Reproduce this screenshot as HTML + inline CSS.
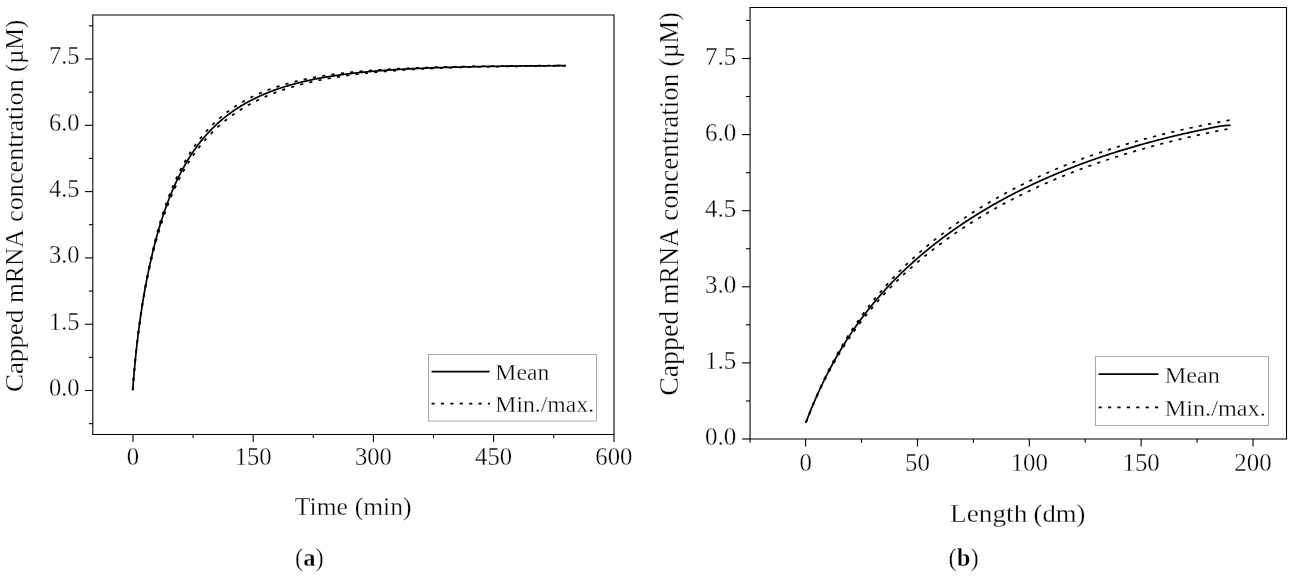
<!DOCTYPE html>
<html><head><meta charset="utf-8"><style>
html,body{margin:0;padding:0;background:#fff;}
svg{display:block;filter:grayscale(100%);}
text{font-family:"Liberation Serif",serif;fill:#000;stroke:#fff;stroke-width:0.3px;}
</style></head><body>
<svg width="1294" height="576" viewBox="0 0 1294 576">
<rect width="1294" height="576" fill="#fff"/>
<path d="M92.79,15.0 H614.0 V434.45 H92.79 Z" fill="none" stroke="#000" stroke-width="1.1"/>
<line x1="88.89" y1="423.65" x2="92.79" y2="423.65" stroke="#000" stroke-width="1.1"/>
<line x1="84.99" y1="390.50" x2="92.79" y2="390.50" stroke="#000" stroke-width="1.1"/>
<line x1="88.89" y1="357.35" x2="92.79" y2="357.35" stroke="#000" stroke-width="1.1"/>
<line x1="84.99" y1="324.20" x2="92.79" y2="324.20" stroke="#000" stroke-width="1.1"/>
<line x1="88.89" y1="291.05" x2="92.79" y2="291.05" stroke="#000" stroke-width="1.1"/>
<line x1="84.99" y1="257.90" x2="92.79" y2="257.90" stroke="#000" stroke-width="1.1"/>
<line x1="88.89" y1="224.75" x2="92.79" y2="224.75" stroke="#000" stroke-width="1.1"/>
<line x1="84.99" y1="191.60" x2="92.79" y2="191.60" stroke="#000" stroke-width="1.1"/>
<line x1="88.89" y1="158.45" x2="92.79" y2="158.45" stroke="#000" stroke-width="1.1"/>
<line x1="84.99" y1="125.30" x2="92.79" y2="125.30" stroke="#000" stroke-width="1.1"/>
<line x1="88.89" y1="92.15" x2="92.79" y2="92.15" stroke="#000" stroke-width="1.1"/>
<line x1="84.99" y1="59.00" x2="92.79" y2="59.00" stroke="#000" stroke-width="1.1"/>
<line x1="88.89" y1="25.85" x2="92.79" y2="25.85" stroke="#000" stroke-width="1.1"/>
<line x1="133.00" y1="434.45" x2="133.00" y2="442.10" stroke="#000" stroke-width="1.1"/>
<line x1="193.10" y1="434.45" x2="193.10" y2="438.05" stroke="#000" stroke-width="1.1"/>
<line x1="253.20" y1="434.45" x2="253.20" y2="442.10" stroke="#000" stroke-width="1.1"/>
<line x1="313.30" y1="434.45" x2="313.30" y2="438.05" stroke="#000" stroke-width="1.1"/>
<line x1="373.40" y1="434.45" x2="373.40" y2="442.10" stroke="#000" stroke-width="1.1"/>
<line x1="433.50" y1="434.45" x2="433.50" y2="438.05" stroke="#000" stroke-width="1.1"/>
<line x1="493.60" y1="434.45" x2="493.60" y2="442.10" stroke="#000" stroke-width="1.1"/>
<line x1="553.70" y1="434.45" x2="553.70" y2="438.05" stroke="#000" stroke-width="1.1"/>
<line x1="614.00" y1="434.45" x2="614.00" y2="442.10" stroke="#000" stroke-width="1.1"/>
<text transform="translate(79.53,395.85)" font-size="24.50" text-anchor="end">0.0</text>
<text transform="translate(79.53,329.55)" font-size="24.50" text-anchor="end">1.5</text>
<text transform="translate(79.53,263.25)" font-size="24.50" text-anchor="end">3.0</text>
<text transform="translate(79.53,196.95)" font-size="24.50" text-anchor="end">4.5</text>
<text transform="translate(79.53,130.65)" font-size="24.50" text-anchor="end">6.0</text>
<text transform="translate(79.53,64.35)" font-size="24.50" text-anchor="end">7.5</text>
<text transform="translate(133.00,465.30)" font-size="24.70" text-anchor="middle">0</text>
<text transform="translate(253.20,465.30)" font-size="24.70" text-anchor="middle">150</text>
<text transform="translate(373.40,465.30)" font-size="24.70" text-anchor="middle">300</text>
<text transform="translate(493.60,465.30)" font-size="24.70" text-anchor="middle">450</text>
<text transform="translate(613.80,465.30)" font-size="24.70" text-anchor="middle">600</text>
<text transform="translate(294.84,514.90) scale(1.0392,1)" font-size="24.60" text-anchor="start">Time</text>
<text transform="translate(354.68,514.90) scale(1.0383,1)" font-size="24.60" text-anchor="start">(min)</text>
<text transform="translate(23.35,392.11) rotate(-90) scale(1.0340,1)" font-size="26.10" text-anchor="start">Capped</text>
<text transform="translate(23.35,303.04) rotate(-90) scale(0.9803,1)" font-size="26.10" text-anchor="start">mRNA</text>
<text transform="translate(23.35,221.90) rotate(-90) scale(1.0054,1)" font-size="26.10" text-anchor="start">concentration</text>
<text transform="translate(23.35,71.98) rotate(-90) scale(0.9384,1)" font-size="26.10" text-anchor="start">(µM)</text>
<rect x="428.5" y="354.5" width="168" height="66.6" fill="#fff" stroke="#aaaaaa" stroke-width="1"/>
<line x1="431.50" y1="371.60" x2="489.60" y2="371.60" stroke="#000" stroke-width="1.7"/>
<line x1="431.5" y1="403.7" x2="490" y2="403.7" stroke="#000" stroke-width="1.7" stroke-dasharray="3.2 6.2"/>
<text transform="translate(495.32,380.40) scale(1.0573,1)" font-size="22.45" text-anchor="start">Mean</text>
<text transform="translate(495.32,412.10) scale(1.0568,1)" font-size="22.45" text-anchor="start">Min./max.</text>
<path d="M132.70,390.10 L132.86,388.02 L133.02,385.97 L133.18,383.95 L133.34,381.97 L133.50,380.02 L133.67,378.11 L133.83,376.22 L133.99,374.36 L134.15,372.54 L134.31,370.74 L134.47,368.97 L134.63,367.22 L134.79,365.51 L134.95,363.81 L135.11,362.14 L135.27,360.50 L135.43,358.88 L135.60,357.28 L135.76,355.70 L135.92,354.15 L136.08,352.61 L136.24,351.10 L136.40,349.60 L136.56,348.13 L136.72,346.67 L136.88,345.23 L137.04,343.81 L137.20,342.41 L137.36,341.03 L137.53,339.66 L137.69,338.30 L137.85,336.97 L138.01,335.65 L138.17,334.34 L138.33,333.05 L138.49,331.77 L138.65,330.51 L138.81,329.26 L138.97,328.02 L139.13,326.80 L139.29,325.59 L139.46,324.39 L139.62,323.20 L139.78,322.03 L139.94,320.87 L140.10,319.71 L140.26,318.57 L140.42,317.45 L140.58,316.33 L140.74,315.22 L140.90,314.12 L141.06,313.03 L141.22,311.96 L141.39,310.89 L141.55,309.83 L141.71,308.78 L141.87,307.74 L142.03,306.71 L142.19,305.69 L142.35,304.67 L142.51,303.66 L142.67,302.67 L142.83,301.68 L142.99,300.70 L143.15,299.72 L143.32,298.76 L143.48,297.80 L143.64,296.85 L143.80,295.90 L143.96,294.97 L144.12,294.04 L144.28,293.11 L144.44,292.20 L144.60,291.29 L144.76,290.38 L144.92,289.49 L145.08,288.60 L145.25,287.71 L145.41,286.84 L145.57,285.97 L145.73,285.10 L145.89,284.24 L146.05,283.39 L146.21,282.54 L146.37,281.70 L146.53,280.86 L146.69,280.03 L146.85,279.20 L147.01,278.38 L147.18,277.57 L147.34,276.76 L147.50,275.95 L147.66,275.15 L147.82,274.36 L147.98,273.57 L148.14,272.78 L148.30,272.00 L148.46,271.22 L148.62,270.45 L148.78,269.69 L148.94,268.92 L149.11,268.17 L149.27,267.41 L149.43,266.67 L149.59,265.92 L149.75,265.18 L149.91,264.45 L150.07,263.72 L150.23,262.99 L150.39,262.27 L150.55,261.55 L150.71,260.83 L150.87,260.12 L151.04,259.41 L151.20,258.71 L151.36,258.01 L151.52,257.32 L151.68,256.63 L151.84,255.94 L152.00,255.25 L152.16,254.57 L152.32,253.90 L152.48,253.22 L152.64,252.55 L152.80,251.89 L152.97,251.23 L153.13,250.57 L153.29,249.91 L153.45,249.26 L153.61,248.61 L153.77,247.97 L153.93,247.32 L154.09,246.68 L154.25,246.05 L154.41,245.42 L154.57,244.79 L154.73,244.16 L154.90,243.54 L155.06,242.92 L155.22,242.30 L155.38,241.69 L155.54,241.08 L155.70,240.47 L155.86,239.87 L156.02,239.27 L156.18,238.67 L156.34,238.08 L156.50,237.48 L156.66,236.89 L156.83,236.31 L156.99,235.72 L157.15,235.14 L157.31,234.56 L157.47,233.99 L157.63,233.42 L157.79,232.85 L157.95,232.28 L158.11,231.72 L158.27,231.15 L158.43,230.60 L158.59,230.04 L158.76,229.49 L158.92,228.94 L159.08,228.39 L159.24,227.84 L159.40,227.30 L159.56,226.76 L159.72,226.22 L159.88,225.68 L160.04,225.15 L160.20,224.62 L160.36,224.09 L160.52,223.57 L160.69,223.04 L160.85,222.52 L161.01,222.00 L161.17,221.49 L161.33,220.97 L161.49,220.46 L161.65,219.95 L161.81,219.44 L161.97,218.94 L162.13,218.44 L162.29,217.94 L162.45,217.44 L162.62,216.94 L162.78,216.45 L162.94,215.96 L163.10,215.47 L163.26,214.98 L163.42,214.50 L163.58,214.02 L163.74,213.54 L163.90,213.06 L164.06,212.58 L164.22,212.11 L164.38,211.64 L164.55,211.17 L164.71,210.70 L164.87,210.23 L165.03,209.77 L165.19,209.31 L165.35,208.85 L165.51,208.39 L165.67,207.94 L165.83,207.48 L165.99,207.03 L166.15,206.58 L166.31,206.13 L166.48,205.69 L166.64,205.24 L166.80,204.80 L166.96,204.36 L167.12,203.92 L167.28,203.49 L167.44,203.05 L167.60,202.62 L167.76,202.19 L167.92,201.76 L168.08,201.33 L168.24,200.91 L168.41,200.48 L168.57,200.06 L168.73,199.64 L168.89,199.22 L169.05,198.81 L169.21,198.39 L169.37,197.98 L169.53,197.57 L169.69,197.16 L169.85,196.75 L170.01,196.35 L170.17,195.94 L170.34,195.54 L170.50,195.14 L170.66,194.74 L170.82,194.34 L170.98,193.95 L171.14,193.55 L171.30,193.16 L171.46,192.77 L171.62,192.38 L171.78,191.99 L171.94,191.60 L172.10,191.22 L172.27,190.83 L172.43,190.45 L172.59,190.07 L172.75,189.69 L172.91,189.32 L173.07,188.94 L173.23,188.57 L173.39,188.20 L173.55,187.82 L173.71,187.45 L173.87,187.09 L174.03,186.72 L174.20,186.36 L174.36,185.99 L174.52,185.63 L174.68,185.27 L174.84,184.91 L175.00,184.55 L175.16,184.19 L175.32,183.84 L175.48,183.49 L175.64,183.13 L175.80,182.78 L175.96,182.43 L176.13,182.09 L176.29,181.74 L176.45,181.39 L176.61,181.05 L176.77,180.71 L176.93,180.37 L177.09,180.03 L177.25,179.69 L177.41,179.35 L177.57,179.01 L177.73,178.68 L177.89,178.35 L178.06,178.01 L178.22,177.68 L178.38,177.35 L178.54,177.03 L178.70,176.70 L178.86,176.37 L179.02,176.05 L179.18,175.72 L179.34,175.40 L179.50,175.08 L179.66,174.76 L179.82,174.44 L179.99,174.13 L180.15,173.81 L180.31,173.50 L180.47,173.18 L180.63,172.87 L180.79,172.56 L181.19,171.79 L181.96,170.33 L182.73,168.89 L183.50,167.48 L184.27,166.10 L185.05,164.74 L185.82,163.40 L186.59,162.08 L187.36,160.79 L188.13,159.52 L188.90,158.27 L189.67,157.05 L190.44,155.84 L191.21,154.65 L191.98,153.48 L192.76,152.34 L193.53,151.21 L194.30,150.10 L195.07,149.00 L195.84,147.93 L196.61,146.87 L197.38,145.83 L198.15,144.80 L198.92,143.79 L199.69,142.80 L200.47,141.82 L201.24,140.86 L202.01,139.91 L202.78,138.98 L203.55,138.06 L204.32,137.15 L205.09,136.26 L205.86,135.38 L206.63,134.51 L207.40,133.66 L208.18,132.82 L208.95,131.99 L209.72,131.17 L210.49,130.37 L211.26,129.58 L212.03,128.80 L212.80,128.02 L213.57,127.27 L214.34,126.52 L215.11,125.78 L215.88,125.05 L216.66,124.33 L217.43,123.63 L218.20,122.93 L218.97,122.24 L219.74,121.56 L220.51,120.89 L221.28,120.23 L222.05,119.58 L222.82,118.94 L223.59,118.30 L224.37,117.68 L225.14,117.06 L225.91,116.45 L226.68,115.85 L227.45,115.26 L228.22,114.67 L228.99,114.09 L229.76,113.52 L230.53,112.96 L231.30,112.40 L232.08,111.86 L232.85,111.31 L233.62,110.78 L234.39,110.25 L235.16,109.73 L235.93,109.22 L236.70,108.71 L237.47,108.21 L238.24,107.72 L239.01,107.23 L239.79,106.74 L240.56,106.27 L241.33,105.80 L242.10,105.33 L242.87,104.87 L243.64,104.42 L244.41,103.97 L245.18,103.53 L245.95,103.09 L246.72,102.66 L247.50,102.24 L248.27,101.82 L249.04,101.40 L249.81,100.99 L250.58,100.59 L251.35,100.18 L252.12,99.79 L252.89,99.40 L253.66,99.01 L254.43,98.63 L255.21,98.25 L255.98,97.88 L256.75,97.51 L257.52,97.15 L258.29,96.79 L259.06,96.43 L259.83,96.08 L260.60,95.73 L261.37,95.39 L262.14,95.05 L262.91,94.72 L263.69,94.39 L264.46,94.06 L265.23,93.74 L266.00,93.42 L266.77,93.10 L267.54,92.79 L268.31,92.48 L269.08,92.18 L269.85,91.88 L270.62,91.58 L271.40,91.28 L272.17,90.99 L272.94,90.71 L273.71,90.42 L274.48,90.14 L275.25,89.86 L276.02,89.59 L276.79,89.32 L277.56,89.05 L278.33,88.79 L279.11,88.52 L279.88,88.26 L280.65,88.01 L281.42,87.76 L282.19,87.50 L282.96,87.26 L283.73,87.01 L284.50,86.77 L285.27,86.53 L286.04,86.30 L286.82,86.06 L287.59,85.83 L288.36,85.60 L289.13,85.38 L289.90,85.15 L290.67,84.93 L291.44,84.72 L292.21,84.50 L292.98,84.29 L293.75,84.08 L294.53,83.87 L295.30,83.66 L296.07,83.46 L296.84,83.26 L297.61,83.06 L298.38,82.86 L299.15,82.67 L299.92,82.47 L300.69,82.28 L301.46,82.09 L302.23,81.91 L303.01,81.72 L303.78,81.54 L304.55,81.36 L305.32,81.18 L306.09,81.01 L306.86,80.83 L307.63,80.66 L308.40,80.49 L309.17,80.32 L309.94,80.16 L310.72,79.99 L311.49,79.83 L312.26,79.67 L313.03,79.51 L313.80,79.35 L314.57,79.20 L315.34,79.04 L316.11,78.89 L316.88,78.74 L317.65,78.59 L318.43,78.45 L319.20,78.30 L319.97,78.16 L320.74,78.02 L321.51,77.87 L322.28,77.74 L323.05,77.60 L323.82,77.46 L324.59,77.33 L325.36,77.20 L326.14,77.06 L326.91,76.93 L327.68,76.81 L328.45,76.68 L329.22,76.55 L329.99,76.43 L330.76,76.30 L331.53,76.18 L332.30,76.06 L333.07,75.94 L333.85,75.83 L334.62,75.71 L335.39,75.60 L336.16,75.48 L336.93,75.37 L337.70,75.26 L338.47,75.15 L339.24,75.04 L340.01,74.93 L340.78,74.83 L341.55,74.72 L342.33,74.62 L343.10,74.51 L343.87,74.41 L344.64,74.31 L345.41,74.21 L346.18,74.11 L346.95,74.02 L347.72,73.92 L348.49,73.82 L349.26,73.73 L350.04,73.64 L350.81,73.54 L351.58,73.45 L352.35,73.36 L353.12,73.27 L353.89,73.19 L354.66,73.10 L355.43,73.01 L356.20,72.93 L356.97,72.84 L357.75,72.76 L358.52,72.68 L359.29,72.60 L360.06,72.52 L360.83,72.44 L361.60,72.36 L362.37,72.28 L363.14,72.20 L363.91,72.13 L364.68,72.05 L365.46,71.98 L366.23,71.90 L367.00,71.83 L367.77,71.76 L368.54,71.69 L369.31,71.62 L370.08,71.55 L370.85,71.48 L371.62,71.41 L372.39,71.34 L373.17,71.27 L373.94,71.21 L374.71,71.14 L375.48,71.08 L376.25,71.01 L377.02,70.95 L377.79,70.89 L378.56,70.83 L379.33,70.77 L380.10,70.71 L380.88,70.65 L381.65,70.59 L382.42,70.53 L383.19,70.47 L383.96,70.41 L384.73,70.36 L385.50,70.30 L386.27,70.25 L387.04,70.19 L387.81,70.14 L388.58,70.08 L389.36,70.03 L390.13,69.98 L390.90,69.93 L391.67,69.87 L392.44,69.82 L393.21,69.77 L393.98,69.72 L394.75,69.68 L395.52,69.63 L396.29,69.58 L397.07,69.53 L397.84,69.48 L398.61,69.44 L399.38,69.39 L400.15,69.35 L400.92,69.30 L401.69,69.26 L402.46,69.21 L403.23,69.17 L404.00,69.13 L404.78,69.09 L405.55,69.04 L406.32,69.00 L407.09,68.96 L407.86,68.92 L408.63,68.88 L409.40,68.84 L410.17,68.80 L410.94,68.76 L411.71,68.72 L412.49,68.69 L413.26,68.65 L414.03,68.61 L414.80,68.58 L415.57,68.54 L416.34,68.50 L417.11,68.47 L417.88,68.43 L418.65,68.40 L419.42,68.36 L420.20,68.33 L420.97,68.30 L421.74,68.26 L422.51,68.23 L423.28,68.20 L424.05,68.16 L424.82,68.13 L425.59,68.10 L426.36,68.07 L427.13,68.04 L427.90,68.01 L428.68,67.98 L429.45,67.95 L430.22,67.92 L430.99,67.89 L431.76,67.86 L432.53,67.83 L433.30,67.80 L434.07,67.78 L434.84,67.75 L435.61,67.72 L436.39,67.70 L437.16,67.67 L437.93,67.64 L438.70,67.62 L439.47,67.59 L440.24,67.56 L441.01,67.54 L441.78,67.51 L442.55,67.49 L443.32,67.47 L444.10,67.44 L444.87,67.42 L445.64,67.39 L446.41,67.37 L447.18,67.35 L447.95,67.32 L448.72,67.30 L449.49,67.28 L450.26,67.26 L451.03,67.24 L451.81,67.21 L452.58,67.19 L453.35,67.17 L454.12,67.15 L454.89,67.13 L455.66,67.11 L456.43,67.09 L457.20,67.07 L457.97,67.05 L458.74,67.03 L459.52,67.01 L460.29,66.99 L461.06,66.97 L461.83,66.95 L462.60,66.94 L463.37,66.92 L464.14,66.90 L464.91,66.88 L465.68,66.86 L466.45,66.85 L467.23,66.83 L468.00,66.81 L468.77,66.79 L469.54,66.78 L470.31,66.76 L471.08,66.74 L471.85,66.73 L472.62,66.71 L473.39,66.70 L474.16,66.68 L474.93,66.67 L475.71,66.65 L476.48,66.63 L477.25,66.62 L478.02,66.60 L478.79,66.59 L479.56,66.58 L480.33,66.56 L481.10,66.55 L481.87,66.53 L482.64,66.52 L483.42,66.51 L484.19,66.49 L484.96,66.48 L485.73,66.47 L486.50,66.45 L487.27,66.44 L488.04,66.43 L488.81,66.41 L489.58,66.40 L490.35,66.39 L491.13,66.38 L491.90,66.36 L492.67,66.35 L493.44,66.34 L494.21,66.33 L494.98,66.32 L495.75,66.30 L496.52,66.29 L497.29,66.28 L498.06,66.27 L498.84,66.26 L499.61,66.25 L500.38,66.24 L501.15,66.23 L501.92,66.22 L502.69,66.21 L503.46,66.20 L504.23,66.19 L505.00,66.18 L505.77,66.17 L506.55,66.16 L507.32,66.15 L508.09,66.14 L508.86,66.13 L509.63,66.12 L510.40,66.11 L511.17,66.10 L511.94,66.09 L512.71,66.08 L513.48,66.07 L514.25,66.06 L515.03,66.05 L515.80,66.05 L516.57,66.04 L517.34,66.03 L518.11,66.02 L518.88,66.01 L519.65,66.00 L520.42,66.00 L521.19,65.99 L521.96,65.98 L522.74,65.97 L523.51,65.96 L524.28,65.96 L525.05,65.95 L525.82,65.94 L526.59,65.93 L527.36,65.93 L528.13,65.92 L528.90,65.91 L529.67,65.91 L530.45,65.90 L531.22,65.89 L531.99,65.89 L532.76,65.88 L533.53,65.87 L534.30,65.86 L535.07,65.86 L535.84,65.85 L536.61,65.85 L537.38,65.84 L538.16,65.83 L538.93,65.83 L539.70,65.82 L540.47,65.81 L541.24,65.81 L542.01,65.80 L542.78,65.80 L543.55,65.79 L544.32,65.79 L545.09,65.78 L545.87,65.77 L546.64,65.77 L547.41,65.76 L548.18,65.76 L548.95,65.75 L549.72,65.75 L550.49,65.74 L551.26,65.74 L552.03,65.73 L552.80,65.73 L553.58,65.72 L554.35,65.72 L555.12,65.71 L555.89,65.71 L556.66,65.70 L557.43,65.70 L558.20,65.69 L558.97,65.69 L559.74,65.68 L560.51,65.68 L561.28,65.67 L562.06,65.67 L562.83,65.66 L563.60,65.66 L564.37,65.66 L565.14,65.65 L565.91,65.65" fill="none" stroke="#000" stroke-width="1.7" stroke-linejoin="round"/>
<path d="M132.70,390.10 L132.86,387.99 L133.02,385.92 L133.18,383.88 L133.34,381.88 L133.50,379.91 L133.67,377.97 L133.83,376.06 L133.99,374.18 L134.15,372.34 L134.31,370.51 L134.47,368.72 L134.63,366.96 L134.79,365.22 L134.95,363.50 L135.11,361.81 L135.27,360.14 L135.43,358.50 L135.60,356.88 L135.76,355.28 L135.92,353.71 L136.08,352.15 L136.24,350.62 L136.40,349.10 L136.56,347.61 L136.72,346.13 L136.88,344.67 L137.04,343.23 L137.20,341.81 L137.36,340.40 L137.53,339.02 L137.69,337.64 L137.85,336.29 L138.01,334.94 L138.17,333.62 L138.33,332.31 L138.49,331.01 L138.65,329.73 L138.81,328.46 L138.97,327.20 L139.13,325.96 L139.29,324.73 L139.46,323.51 L139.62,322.31 L139.78,321.12 L139.94,319.94 L140.10,318.77 L140.26,317.61 L140.42,316.46 L140.58,315.32 L140.74,314.20 L140.90,313.08 L141.06,311.98 L141.22,310.88 L141.39,309.80 L141.55,308.72 L141.71,307.65 L141.87,306.59 L142.03,305.55 L142.19,304.51 L142.35,303.47 L142.51,302.45 L142.67,301.44 L142.83,300.43 L142.99,299.43 L143.15,298.44 L143.32,297.46 L143.48,296.48 L143.64,295.52 L143.80,294.56 L143.96,293.60 L144.12,292.66 L144.28,291.72 L144.44,290.79 L144.60,289.86 L144.76,288.94 L144.92,288.03 L145.08,287.12 L145.25,286.22 L145.41,285.33 L145.57,284.44 L145.73,283.56 L145.89,282.69 L146.05,281.82 L146.21,280.96 L146.37,280.10 L146.53,279.25 L146.69,278.40 L146.85,277.56 L147.01,276.72 L147.18,275.89 L147.34,275.07 L147.50,274.25 L147.66,273.43 L147.82,272.63 L147.98,271.82 L148.14,271.02 L148.30,270.23 L148.46,269.44 L148.62,268.65 L148.78,267.87 L148.94,267.10 L149.11,266.33 L149.27,265.56 L149.43,264.80 L149.59,264.04 L149.75,263.29 L149.91,262.54 L150.07,261.79 L150.23,261.05 L150.39,260.32 L150.55,259.58 L150.71,258.86 L150.87,258.13 L151.04,257.41 L151.20,256.70 L151.36,255.99 L151.52,255.28 L151.68,254.57 L151.84,253.87 L152.00,253.18 L152.16,252.48 L152.32,251.80 L152.48,251.11 L152.64,250.43 L152.80,249.75 L152.97,249.08 L153.13,248.41 L153.29,247.74 L153.45,247.07 L153.61,246.41 L153.77,245.76 L153.93,245.10 L154.09,244.45 L154.25,243.81 L154.41,243.16 L154.57,242.52 L154.73,241.89 L154.90,241.25 L155.06,240.62 L155.22,239.99 L155.38,239.37 L155.54,238.75 L155.70,238.13 L155.86,237.52 L156.02,236.90 L156.18,236.29 L156.34,235.69 L156.50,235.09 L156.66,234.49 L156.83,233.89 L156.99,233.30 L157.15,232.70 L157.31,232.12 L157.47,231.53 L157.63,230.95 L157.79,230.37 L157.95,229.79 L158.11,229.22 L158.27,228.65 L158.43,228.08 L158.59,227.51 L158.76,226.95 L158.92,226.39 L159.08,225.83 L159.24,225.27 L159.40,224.72 L159.56,224.17 L159.72,223.62 L159.88,223.08 L160.04,222.54 L160.20,222.00 L160.36,221.46 L160.52,220.92 L160.69,220.39 L160.85,219.86 L161.01,219.33 L161.17,218.81 L161.33,218.29 L161.49,217.77 L161.65,217.25 L161.81,216.73 L161.97,216.22 L162.13,215.71 L162.29,215.20 L162.45,214.69 L162.62,214.19 L162.78,213.69 L162.94,213.19 L163.10,212.69 L163.26,212.20 L163.42,211.71 L163.58,211.21 L163.74,210.73 L163.90,210.24 L164.06,209.76 L164.22,209.28 L164.38,208.80 L164.55,208.32 L164.71,207.84 L164.87,207.37 L165.03,206.90 L165.19,206.43 L165.35,205.96 L165.51,205.50 L165.67,205.03 L165.83,204.57 L165.99,204.12 L166.15,203.66 L166.31,203.20 L166.48,202.75 L166.64,202.30 L166.80,201.85 L166.96,201.40 L167.12,200.96 L167.28,200.52 L167.44,200.07 L167.60,199.64 L167.76,199.20 L167.92,198.76 L168.08,198.33 L168.24,197.90 L168.41,197.47 L168.57,197.04 L168.73,196.61 L168.89,196.19 L169.05,195.76 L169.21,195.34 L169.37,194.92 L169.53,194.51 L169.69,194.09 L169.85,193.68 L170.01,193.27 L170.17,192.86 L170.34,192.45 L170.50,192.04 L170.66,191.64 L170.82,191.23 L170.98,190.83 L171.14,190.43 L171.30,190.03 L171.46,189.63 L171.62,189.24 L171.78,188.85 L171.94,188.45 L172.10,188.06 L172.27,187.67 L172.43,187.29 L172.59,186.90 L172.75,186.52 L172.91,186.14 L173.07,185.76 L173.23,185.38 L173.39,185.00 L173.55,184.62 L173.71,184.25 L173.87,183.88 L174.03,183.50 L174.20,183.13 L174.36,182.77 L174.52,182.40 L174.68,182.03 L174.84,181.67 L175.00,181.31 L175.16,180.95 L175.32,180.59 L175.48,180.23 L175.64,179.87 L175.80,179.52 L175.96,179.16 L176.13,178.81 L176.29,178.46 L176.45,178.11 L176.61,177.76 L176.77,177.41 L176.93,177.07 L177.09,176.72 L177.25,176.38 L177.41,176.04 L177.57,175.70 L177.73,175.36 L177.89,175.02 L178.06,174.69 L178.22,174.35 L178.38,174.02 L178.54,173.69 L178.70,173.36 L178.86,173.03 L179.02,172.70 L179.18,172.37 L179.34,172.05 L179.50,171.72 L179.66,171.40 L179.82,171.08 L179.99,170.76 L180.15,170.44 L180.31,170.12 L180.47,169.80 L180.63,169.49 L180.79,169.17 L181.19,168.39 L181.96,166.92 L182.73,165.47 L183.50,164.04 L184.27,162.64 L185.05,161.27 L185.82,159.92 L186.59,158.60 L187.36,157.30 L188.13,156.02 L188.90,154.76 L189.67,153.52 L190.44,152.31 L191.21,151.12 L191.98,149.94 L192.76,148.79 L193.53,147.65 L194.30,146.54 L195.07,145.44 L195.84,144.36 L196.61,143.30 L197.38,142.26 L198.15,141.23 L198.92,140.22 L199.69,139.22 L200.47,138.25 L201.24,137.28 L202.01,136.33 L202.78,135.40 L203.55,134.48 L204.32,133.58 L205.09,132.69 L205.86,131.81 L206.63,130.95 L207.40,130.10 L208.18,129.26 L208.95,128.44 L209.72,127.63 L210.49,126.83 L211.26,126.04 L212.03,125.26 L212.80,124.50 L213.57,123.75 L214.34,123.00 L215.11,122.27 L215.88,121.55 L216.66,120.84 L217.43,120.14 L218.20,119.45 L218.97,118.77 L219.74,118.10 L220.51,117.44 L221.28,116.79 L222.05,116.15 L222.82,115.51 L223.59,114.89 L224.37,114.27 L225.14,113.67 L225.91,113.07 L226.68,112.48 L227.45,111.89 L228.22,111.32 L228.99,110.75 L229.76,110.19 L230.53,109.64 L231.30,109.10 L232.08,108.56 L232.85,108.03 L233.62,107.51 L234.39,107.00 L235.16,106.49 L235.93,105.99 L236.70,105.49 L237.47,105.00 L238.24,104.52 L239.01,104.04 L239.79,103.58 L240.56,103.11 L241.33,102.65 L242.10,102.20 L242.87,101.76 L243.64,101.32 L244.41,100.88 L245.18,100.46 L245.95,100.03 L246.72,99.62 L247.50,99.20 L248.27,98.80 L249.04,98.40 L249.81,98.00 L250.58,97.61 L251.35,97.22 L252.12,96.84 L252.89,96.46 L253.66,96.09 L254.43,95.72 L255.21,95.36 L255.98,95.00 L256.75,94.65 L257.52,94.30 L258.29,93.96 L259.06,93.62 L259.83,93.28 L260.60,92.95 L261.37,92.62 L262.14,92.30 L262.91,91.98 L263.69,91.66 L264.46,91.35 L265.23,91.04 L266.00,90.73 L266.77,90.43 L267.54,90.14 L268.31,89.84 L269.08,89.55 L269.85,89.27 L270.62,88.98 L271.40,88.71 L272.17,88.43 L272.94,88.16 L273.71,87.89 L274.48,87.62 L275.25,87.36 L276.02,87.10 L276.79,86.84 L277.56,86.59 L278.33,86.34 L279.11,86.09 L279.88,85.85 L280.65,85.61 L281.42,85.37 L282.19,85.13 L282.96,84.90 L283.73,84.67 L284.50,84.44 L285.27,84.22 L286.04,84.00 L286.82,83.78 L287.59,83.56 L288.36,83.35 L289.13,83.14 L289.90,82.93 L290.67,82.72 L291.44,82.52 L292.21,82.32 L292.98,82.12 L293.75,81.92 L294.53,81.73 L295.30,81.53 L296.07,81.34 L296.84,81.16 L297.61,80.97 L298.38,80.79 L299.15,80.61 L299.92,80.43 L300.69,80.25 L301.46,80.08 L302.23,79.90 L303.01,79.73 L303.78,79.57 L304.55,79.40 L305.32,79.23 L306.09,79.07 L306.86,78.91 L307.63,78.75 L308.40,78.60 L309.17,78.44 L309.94,78.29 L310.72,78.14 L311.49,77.99 L312.26,77.84 L313.03,77.69 L313.80,77.55 L314.57,77.41 L315.34,77.26 L316.11,77.13 L316.88,76.99 L317.65,76.85 L318.43,76.72 L319.20,76.58 L319.97,76.45 L320.74,76.32 L321.51,76.19 L322.28,76.07 L323.05,75.94 L323.82,75.82 L324.59,75.70 L325.36,75.57 L326.14,75.45 L326.91,75.34 L327.68,75.22 L328.45,75.10 L329.22,74.99 L329.99,74.88 L330.76,74.77 L331.53,74.66 L332.30,74.55 L333.07,74.44 L333.85,74.33 L334.62,74.23 L335.39,74.12 L336.16,74.02 L336.93,73.92 L337.70,73.82 L338.47,73.72 L339.24,73.62 L340.01,73.53 L340.78,73.43 L341.55,73.34 L342.33,73.24 L343.10,73.15 L343.87,73.06 L344.64,72.97 L345.41,72.88 L346.18,72.79 L346.95,72.70 L347.72,72.62 L348.49,72.53 L349.26,72.45 L350.04,72.36 L350.81,72.28 L351.58,72.20 L352.35,72.12 L353.12,72.04 L353.89,71.96 L354.66,71.89 L355.43,71.81 L356.20,71.73 L356.97,71.66 L357.75,71.58 L358.52,71.51 L359.29,71.44 L360.06,71.37 L360.83,71.30 L361.60,71.23 L362.37,71.16 L363.14,71.09 L363.91,71.02 L364.68,70.96 L365.46,70.89 L366.23,70.82 L367.00,70.76 L367.77,70.70 L368.54,70.63 L369.31,70.57 L370.08,70.51 L370.85,70.45 L371.62,70.39 L372.39,70.33 L373.17,70.27 L373.94,70.21 L374.71,70.16 L375.48,70.10 L376.25,70.04 L377.02,69.99 L377.79,69.93 L378.56,69.88 L379.33,69.83 L380.10,69.77 L380.88,69.72 L381.65,69.67 L382.42,69.62 L383.19,69.57 L383.96,69.52 L384.73,69.47 L385.50,69.42 L386.27,69.37 L387.04,69.33 L387.81,69.28 L388.58,69.23 L389.36,69.19 L390.13,69.14 L390.90,69.10 L391.67,69.05 L392.44,69.01 L393.21,68.97 L393.98,68.92 L394.75,68.88 L395.52,68.84 L396.29,68.80 L397.07,68.76 L397.84,68.72 L398.61,68.68 L399.38,68.64 L400.15,68.60 L400.92,68.56 L401.69,68.52 L402.46,68.48 L403.23,68.45 L404.00,68.41 L404.78,68.37 L405.55,68.34 L406.32,68.30 L407.09,68.27 L407.86,68.23 L408.63,68.20 L409.40,68.16 L410.17,68.13 L410.94,68.10 L411.71,68.06 L412.49,68.03 L413.26,68.00 L414.03,67.97 L414.80,67.94 L415.57,67.91 L416.34,67.88 L417.11,67.85 L417.88,67.82 L418.65,67.79 L419.42,67.76 L420.20,67.73 L420.97,67.70 L421.74,67.67 L422.51,67.64 L423.28,67.62 L424.05,67.59 L424.82,67.56 L425.59,67.54 L426.36,67.51 L427.13,67.48 L427.90,67.46 L428.68,67.43 L429.45,67.41 L430.22,67.38 L430.99,67.36 L431.76,67.33 L432.53,67.31 L433.30,67.29 L434.07,67.26 L434.84,67.24 L435.61,67.22 L436.39,67.20 L437.16,67.17 L437.93,67.15 L438.70,67.13 L439.47,67.11 L440.24,67.09 L441.01,67.07 L441.78,67.04 L442.55,67.02 L443.32,67.00 L444.10,66.98 L444.87,66.96 L445.64,66.94 L446.41,66.92 L447.18,66.91 L447.95,66.89 L448.72,66.87 L449.49,66.85 L450.26,66.83 L451.03,66.81 L451.81,66.80 L452.58,66.78 L453.35,66.76 L454.12,66.74 L454.89,66.73 L455.66,66.71 L456.43,66.69 L457.20,66.68 L457.97,66.66 L458.74,66.64 L459.52,66.63 L460.29,66.61 L461.06,66.60 L461.83,66.58 L462.60,66.57 L463.37,66.55 L464.14,66.54 L464.91,66.52 L465.68,66.51 L466.45,66.49 L467.23,66.48 L468.00,66.46 L468.77,66.45 L469.54,66.44 L470.31,66.42 L471.08,66.41 L471.85,66.40 L472.62,66.38 L473.39,66.37 L474.16,66.36 L474.93,66.35 L475.71,66.33 L476.48,66.32 L477.25,66.31 L478.02,66.30 L478.79,66.28 L479.56,66.27 L480.33,66.26 L481.10,66.25 L481.87,66.24 L482.64,66.23 L483.42,66.22 L484.19,66.21 L484.96,66.19 L485.73,66.18 L486.50,66.17 L487.27,66.16 L488.04,66.15 L488.81,66.14 L489.58,66.13 L490.35,66.12 L491.13,66.11 L491.90,66.10 L492.67,66.09 L493.44,66.08 L494.21,66.07 L494.98,66.06 L495.75,66.06 L496.52,66.05 L497.29,66.04 L498.06,66.03 L498.84,66.02 L499.61,66.01 L500.38,66.00 L501.15,65.99 L501.92,65.99 L502.69,65.98 L503.46,65.97 L504.23,65.96 L505.00,65.95 L505.77,65.94 L506.55,65.94 L507.32,65.93 L508.09,65.92 L508.86,65.91 L509.63,65.91 L510.40,65.90 L511.17,65.89 L511.94,65.88 L512.71,65.88 L513.48,65.87 L514.25,65.86 L515.03,65.86 L515.80,65.85 L516.57,65.84 L517.34,65.84 L518.11,65.83 L518.88,65.82 L519.65,65.82 L520.42,65.81 L521.19,65.80 L521.96,65.80 L522.74,65.79 L523.51,65.79 L524.28,65.78 L525.05,65.77 L525.82,65.77 L526.59,65.76 L527.36,65.76 L528.13,65.75 L528.90,65.75 L529.67,65.74 L530.45,65.73 L531.22,65.73 L531.99,65.72 L532.76,65.72 L533.53,65.71 L534.30,65.71 L535.07,65.70 L535.84,65.70 L536.61,65.69 L537.38,65.69 L538.16,65.68 L538.93,65.68 L539.70,65.67 L540.47,65.67 L541.24,65.66 L542.01,65.66 L542.78,65.66 L543.55,65.65 L544.32,65.65 L545.09,65.64 L545.87,65.64 L546.64,65.63 L547.41,65.63 L548.18,65.62 L548.95,65.62 L549.72,65.62 L550.49,65.61 L551.26,65.61 L552.03,65.60 L552.80,65.60 L553.58,65.60 L554.35,65.59 L555.12,65.59 L555.89,65.59 L556.66,65.58 L557.43,65.58 L558.20,65.57 L558.97,65.57 L559.74,65.57 L560.51,65.56 L561.28,65.56 L562.06,65.56 L562.83,65.55 L563.60,65.55 L564.37,65.55 L565.14,65.54 L565.91,65.54" fill="none" stroke="#000" stroke-width="1.7" stroke-linejoin="round" stroke-dasharray="3.2 6.2"/>
<path d="M132.70,390.10 L132.86,388.04 L133.02,386.01 L133.18,384.02 L133.34,382.06 L133.50,380.14 L133.67,378.24 L133.83,376.38 L133.99,374.55 L134.15,372.74 L134.31,370.96 L134.47,369.21 L134.63,367.49 L134.79,365.80 L134.95,364.12 L135.11,362.48 L135.27,360.85 L135.43,359.25 L135.60,357.68 L135.76,356.12 L135.92,354.59 L136.08,353.07 L136.24,351.58 L136.40,350.10 L136.56,348.65 L136.72,347.22 L136.88,345.80 L137.04,344.40 L137.20,343.02 L137.36,341.65 L137.53,340.30 L137.69,338.97 L137.85,337.65 L138.01,336.35 L138.17,335.06 L138.33,333.79 L138.49,332.53 L138.65,331.29 L138.81,330.06 L138.97,328.84 L139.13,327.64 L139.29,326.45 L139.46,325.27 L139.62,324.10 L139.78,322.94 L139.94,321.80 L140.10,320.67 L140.26,319.55 L140.42,318.44 L140.58,317.34 L140.74,316.25 L140.90,315.17 L141.06,314.10 L141.22,313.04 L141.39,311.99 L141.55,310.95 L141.71,309.91 L141.87,308.89 L142.03,307.88 L142.19,306.87 L142.35,305.88 L142.51,304.89 L142.67,303.91 L142.83,302.93 L142.99,301.97 L143.15,301.01 L143.32,300.06 L143.48,299.12 L143.64,298.19 L143.80,297.26 L143.96,296.34 L144.12,295.43 L144.28,294.52 L144.44,293.62 L144.60,292.73 L144.76,291.84 L144.92,290.96 L145.08,290.09 L145.25,289.22 L145.41,288.36 L145.57,287.50 L145.73,286.65 L145.89,285.81 L146.05,284.97 L146.21,284.14 L146.37,283.31 L146.53,282.49 L146.69,281.67 L146.85,280.86 L147.01,280.06 L147.18,279.26 L147.34,278.46 L147.50,277.67 L147.66,276.89 L147.82,276.11 L147.98,275.33 L148.14,274.56 L148.30,273.79 L148.46,273.03 L148.62,272.28 L148.78,271.52 L148.94,270.78 L149.11,270.03 L149.27,269.29 L149.43,268.56 L149.59,267.83 L149.75,267.10 L149.91,266.38 L150.07,265.66 L150.23,264.95 L150.39,264.24 L150.55,263.54 L150.71,262.83 L150.87,262.14 L151.04,261.44 L151.20,260.75 L151.36,260.07 L151.52,259.38 L151.68,258.71 L151.84,258.03 L152.00,257.36 L152.16,256.69 L152.32,256.03 L152.48,255.37 L152.64,254.71 L152.80,254.06 L152.97,253.41 L153.13,252.76 L153.29,252.12 L153.45,251.48 L153.61,250.84 L153.77,250.21 L153.93,249.58 L154.09,248.95 L154.25,248.33 L154.41,247.71 L154.57,247.09 L154.73,246.48 L154.90,245.87 L155.06,245.26 L155.22,244.66 L155.38,244.05 L155.54,243.45 L155.70,242.86 L155.86,242.27 L156.02,241.68 L156.18,241.09 L156.34,240.51 L156.50,239.92 L156.66,239.35 L156.83,238.77 L156.99,238.20 L157.15,237.63 L157.31,237.06 L157.47,236.50 L157.63,235.93 L157.79,235.37 L157.95,234.82 L158.11,234.26 L158.27,233.71 L158.43,233.16 L158.59,232.62 L158.76,232.08 L158.92,231.53 L159.08,231.00 L159.24,230.46 L159.40,229.93 L159.56,229.40 L159.72,228.87 L159.88,228.34 L160.04,227.82 L160.20,227.30 L160.36,226.78 L160.52,226.26 L160.69,225.75 L160.85,225.24 L161.01,224.73 L161.17,224.22 L161.33,223.72 L161.49,223.21 L161.65,222.71 L161.81,222.22 L161.97,221.72 L162.13,221.23 L162.29,220.74 L162.45,220.25 L162.62,219.76 L162.78,219.28 L162.94,218.79 L163.10,218.31 L163.26,217.84 L163.42,217.36 L163.58,216.89 L163.74,216.41 L163.90,215.94 L164.06,215.48 L164.22,215.01 L164.38,214.55 L164.55,214.09 L164.71,213.63 L164.87,213.17 L165.03,212.71 L165.19,212.26 L165.35,211.81 L165.51,211.36 L165.67,210.91 L165.83,210.47 L165.99,210.02 L166.15,209.58 L166.31,209.14 L166.48,208.70 L166.64,208.26 L166.80,207.83 L166.96,207.40 L167.12,206.97 L167.28,206.54 L167.44,206.11 L167.60,205.69 L167.76,205.26 L167.92,204.84 L168.08,204.42 L168.24,204.00 L168.41,203.59 L168.57,203.17 L168.73,202.76 L168.89,202.35 L169.05,201.94 L169.21,201.53 L169.37,201.12 L169.53,200.72 L169.69,200.32 L169.85,199.91 L170.01,199.52 L170.17,199.12 L170.34,198.72 L170.50,198.33 L170.66,197.93 L170.82,197.54 L170.98,197.15 L171.14,196.76 L171.30,196.38 L171.46,195.99 L171.62,195.61 L171.78,195.23 L171.94,194.85 L172.10,194.47 L172.27,194.09 L172.43,193.72 L172.59,193.34 L172.75,192.97 L172.91,192.60 L173.07,192.23 L173.23,191.86 L173.39,191.49 L173.55,191.13 L173.71,190.76 L173.87,190.40 L174.03,190.04 L174.20,189.68 L174.36,189.32 L174.52,188.96 L174.68,188.61 L174.84,188.26 L175.00,187.90 L175.16,187.55 L175.32,187.20 L175.48,186.85 L175.64,186.51 L175.80,186.16 L175.96,185.82 L176.13,185.47 L176.29,185.13 L176.45,184.79 L176.61,184.45 L176.77,184.11 L176.93,183.78 L177.09,183.44 L177.25,183.11 L177.41,182.78 L177.57,182.44 L177.73,182.11 L177.89,181.78 L178.06,181.46 L178.22,181.13 L178.38,180.81 L178.54,180.48 L178.70,180.16 L178.86,179.84 L179.02,179.52 L179.18,179.20 L179.34,178.88 L179.50,178.56 L179.66,178.25 L179.82,177.93 L179.99,177.62 L180.15,177.31 L180.31,177.00 L180.47,176.69 L180.63,176.38 L180.79,176.07 L181.19,175.31 L181.96,173.87 L182.73,172.45 L183.50,171.06 L184.27,169.69 L185.05,168.34 L185.82,167.02 L186.59,165.72 L187.36,164.44 L188.13,163.18 L188.90,161.94 L189.67,160.72 L190.44,159.53 L191.21,158.35 L191.98,157.19 L192.76,156.05 L193.53,154.93 L194.30,153.82 L195.07,152.74 L195.84,151.67 L196.61,150.61 L197.38,149.58 L198.15,148.56 L198.92,147.55 L199.69,146.56 L200.47,145.58 L201.24,144.62 L202.01,143.68 L202.78,142.74 L203.55,141.82 L204.32,140.92 L205.09,140.03 L205.86,139.15 L206.63,138.28 L207.40,137.43 L208.18,136.58 L208.95,135.75 L209.72,134.93 L210.49,134.13 L211.26,133.33 L212.03,132.54 L212.80,131.77 L213.57,131.01 L214.34,130.25 L215.11,129.51 L215.88,128.78 L216.66,128.05 L217.43,127.34 L218.20,126.64 L218.97,125.94 L219.74,125.26 L220.51,124.58 L221.28,123.91 L222.05,123.25 L222.82,122.60 L223.59,121.96 L224.37,121.32 L225.14,120.70 L225.91,120.08 L226.68,119.47 L227.45,118.87 L228.22,118.27 L228.99,117.69 L229.76,117.11 L230.53,116.53 L231.30,115.97 L232.08,115.41 L232.85,114.86 L233.62,114.31 L234.39,113.77 L235.16,113.24 L235.93,112.72 L236.70,112.20 L237.47,111.68 L238.24,111.18 L239.01,110.68 L239.79,110.18 L240.56,109.69 L241.33,109.21 L242.10,108.73 L242.87,108.26 L243.64,107.80 L244.41,107.34 L245.18,106.88 L245.95,106.43 L246.72,105.99 L247.50,105.55 L248.27,105.11 L249.04,104.68 L249.81,104.26 L250.58,103.84 L251.35,103.43 L252.12,103.02 L252.89,102.61 L253.66,102.21 L254.43,101.82 L255.21,101.42 L255.98,101.04 L256.75,100.65 L257.52,100.28 L258.29,99.90 L259.06,99.53 L259.83,99.17 L260.60,98.81 L261.37,98.45 L262.14,98.10 L262.91,97.75 L263.69,97.40 L264.46,97.06 L265.23,96.72 L266.00,96.39 L266.77,96.06 L267.54,95.73 L268.31,95.41 L269.08,95.09 L269.85,94.77 L270.62,94.46 L271.40,94.15 L272.17,93.84 L272.94,93.54 L273.71,93.24 L274.48,92.95 L275.25,92.65 L276.02,92.37 L276.79,92.08 L277.56,91.80 L278.33,91.52 L279.11,91.24 L279.88,90.97 L280.65,90.70 L281.42,90.43 L282.19,90.16 L282.96,89.90 L283.73,89.64 L284.50,89.38 L285.27,89.13 L286.04,88.88 L286.82,88.63 L287.59,88.39 L288.36,88.14 L289.13,87.90 L289.90,87.66 L290.67,87.43 L291.44,87.20 L292.21,86.97 L292.98,86.74 L293.75,86.51 L294.53,86.29 L295.30,86.07 L296.07,85.85 L296.84,85.63 L297.61,85.42 L298.38,85.21 L299.15,85.00 L299.92,84.79 L300.69,84.59 L301.46,84.39 L302.23,84.19 L303.01,83.99 L303.78,83.79 L304.55,83.60 L305.32,83.41 L306.09,83.22 L306.86,83.03 L307.63,82.84 L308.40,82.66 L309.17,82.48 L309.94,82.30 L310.72,82.12 L311.49,81.94 L312.26,81.77 L313.03,81.60 L313.80,81.43 L314.57,81.26 L315.34,81.09 L316.11,80.92 L316.88,80.76 L317.65,80.60 L318.43,80.44 L319.20,80.28 L319.97,80.12 L320.74,79.97 L321.51,79.81 L322.28,79.66 L323.05,79.51 L323.82,79.36 L324.59,79.22 L325.36,79.07 L326.14,78.93 L326.91,78.78 L327.68,78.64 L328.45,78.50 L329.22,78.37 L329.99,78.23 L330.76,78.09 L331.53,77.96 L332.30,77.83 L333.07,77.70 L333.85,77.57 L334.62,77.44 L335.39,77.31 L336.16,77.19 L336.93,77.06 L337.70,76.94 L338.47,76.82 L339.24,76.70 L340.01,76.58 L340.78,76.46 L341.55,76.34 L342.33,76.23 L343.10,76.11 L343.87,76.00 L344.64,75.89 L345.41,75.78 L346.18,75.67 L346.95,75.56 L347.72,75.45 L348.49,75.35 L349.26,75.24 L350.04,75.14 L350.81,75.03 L351.58,74.93 L352.35,74.83 L353.12,74.73 L353.89,74.63 L354.66,74.54 L355.43,74.44 L356.20,74.34 L356.97,74.25 L357.75,74.16 L358.52,74.06 L359.29,73.97 L360.06,73.88 L360.83,73.79 L361.60,73.70 L362.37,73.61 L363.14,73.53 L363.91,73.44 L364.68,73.36 L365.46,73.27 L366.23,73.19 L367.00,73.11 L367.77,73.02 L368.54,72.94 L369.31,72.86 L370.08,72.78 L370.85,72.71 L371.62,72.63 L372.39,72.55 L373.17,72.48 L373.94,72.40 L374.71,72.33 L375.48,72.25 L376.25,72.18 L377.02,72.11 L377.79,72.04 L378.56,71.97 L379.33,71.90 L380.10,71.83 L380.88,71.76 L381.65,71.69 L382.42,71.63 L383.19,71.56 L383.96,71.49 L384.73,71.43 L385.50,71.37 L386.27,71.30 L387.04,71.24 L387.81,71.18 L388.58,71.12 L389.36,71.05 L390.13,70.99 L390.90,70.93 L391.67,70.88 L392.44,70.82 L393.21,70.76 L393.98,70.70 L394.75,70.65 L395.52,70.59 L396.29,70.53 L397.07,70.48 L397.84,70.43 L398.61,70.37 L399.38,70.32 L400.15,70.27 L400.92,70.21 L401.69,70.16 L402.46,70.11 L403.23,70.06 L404.00,70.01 L404.78,69.96 L405.55,69.91 L406.32,69.86 L407.09,69.82 L407.86,69.77 L408.63,69.72 L409.40,69.68 L410.17,69.63 L410.94,69.58 L411.71,69.54 L412.49,69.50 L413.26,69.45 L414.03,69.41 L414.80,69.36 L415.57,69.32 L416.34,69.28 L417.11,69.24 L417.88,69.20 L418.65,69.16 L419.42,69.12 L420.20,69.08 L420.97,69.04 L421.74,69.00 L422.51,68.96 L423.28,68.92 L424.05,68.88 L424.82,68.84 L425.59,68.81 L426.36,68.77 L427.13,68.73 L427.90,68.70 L428.68,68.66 L429.45,68.63 L430.22,68.59 L430.99,68.56 L431.76,68.52 L432.53,68.49 L433.30,68.46 L434.07,68.42 L434.84,68.39 L435.61,68.36 L436.39,68.32 L437.16,68.29 L437.93,68.26 L438.70,68.23 L439.47,68.20 L440.24,68.17 L441.01,68.14 L441.78,68.11 L442.55,68.08 L443.32,68.05 L444.10,68.02 L444.87,67.99 L445.64,67.96 L446.41,67.94 L447.18,67.91 L447.95,67.88 L448.72,67.85 L449.49,67.83 L450.26,67.80 L451.03,67.77 L451.81,67.75 L452.58,67.72 L453.35,67.70 L454.12,67.67 L454.89,67.65 L455.66,67.62 L456.43,67.60 L457.20,67.57 L457.97,67.55 L458.74,67.52 L459.52,67.50 L460.29,67.48 L461.06,67.46 L461.83,67.43 L462.60,67.41 L463.37,67.39 L464.14,67.37 L464.91,67.34 L465.68,67.32 L466.45,67.30 L467.23,67.28 L468.00,67.26 L468.77,67.24 L469.54,67.22 L470.31,67.20 L471.08,67.18 L471.85,67.16 L472.62,67.14 L473.39,67.12 L474.16,67.10 L474.93,67.08 L475.71,67.06 L476.48,67.04 L477.25,67.02 L478.02,67.01 L478.79,66.99 L479.56,66.97 L480.33,66.95 L481.10,66.93 L481.87,66.92 L482.64,66.90 L483.42,66.88 L484.19,66.87 L484.96,66.85 L485.73,66.83 L486.50,66.82 L487.27,66.80 L488.04,66.78 L488.81,66.77 L489.58,66.75 L490.35,66.74 L491.13,66.72 L491.90,66.71 L492.67,66.69 L493.44,66.68 L494.21,66.66 L494.98,66.65 L495.75,66.63 L496.52,66.62 L497.29,66.61 L498.06,66.59 L498.84,66.58 L499.61,66.56 L500.38,66.55 L501.15,66.54 L501.92,66.52 L502.69,66.51 L503.46,66.50 L504.23,66.49 L505.00,66.47 L505.77,66.46 L506.55,66.45 L507.32,66.44 L508.09,66.42 L508.86,66.41 L509.63,66.40 L510.40,66.39 L511.17,66.38 L511.94,66.36 L512.71,66.35 L513.48,66.34 L514.25,66.33 L515.03,66.32 L515.80,66.31 L516.57,66.30 L517.34,66.29 L518.11,66.28 L518.88,66.27 L519.65,66.26 L520.42,66.25 L521.19,66.24 L521.96,66.23 L522.74,66.22 L523.51,66.21 L524.28,66.20 L525.05,66.19 L525.82,66.18 L526.59,66.17 L527.36,66.16 L528.13,66.15 L528.90,66.14 L529.67,66.13 L530.45,66.12 L531.22,66.11 L531.99,66.10 L532.76,66.09 L533.53,66.09 L534.30,66.08 L535.07,66.07 L535.84,66.06 L536.61,66.05 L537.38,66.04 L538.16,66.04 L538.93,66.03 L539.70,66.02 L540.47,66.01 L541.24,66.00 L542.01,66.00 L542.78,65.99 L543.55,65.98 L544.32,65.97 L545.09,65.97 L545.87,65.96 L546.64,65.95 L547.41,65.95 L548.18,65.94 L548.95,65.93 L549.72,65.92 L550.49,65.92 L551.26,65.91 L552.03,65.90 L552.80,65.90 L553.58,65.89 L554.35,65.88 L555.12,65.88 L555.89,65.87 L556.66,65.87 L557.43,65.86 L558.20,65.85 L558.97,65.85 L559.74,65.84 L560.51,65.84 L561.28,65.83 L562.06,65.82 L562.83,65.82 L563.60,65.81 L564.37,65.81 L565.14,65.80 L565.91,65.80" fill="none" stroke="#000" stroke-width="1.7" stroke-linejoin="round" stroke-dasharray="3.2 6.2"/>
<path d="M750.05,7.5 H1286.5 V439.0 H750.05 Z" fill="none" stroke="#000" stroke-width="1.1"/>
<line x1="742.05" y1="439.00" x2="750.05" y2="439.00" stroke="#000" stroke-width="1.1"/>
<line x1="746.05" y1="400.95" x2="750.05" y2="400.95" stroke="#000" stroke-width="1.1"/>
<line x1="742.05" y1="362.90" x2="750.05" y2="362.90" stroke="#000" stroke-width="1.1"/>
<line x1="746.05" y1="324.85" x2="750.05" y2="324.85" stroke="#000" stroke-width="1.1"/>
<line x1="742.05" y1="286.80" x2="750.05" y2="286.80" stroke="#000" stroke-width="1.1"/>
<line x1="746.05" y1="248.75" x2="750.05" y2="248.75" stroke="#000" stroke-width="1.1"/>
<line x1="742.05" y1="210.70" x2="750.05" y2="210.70" stroke="#000" stroke-width="1.1"/>
<line x1="746.05" y1="172.65" x2="750.05" y2="172.65" stroke="#000" stroke-width="1.1"/>
<line x1="742.05" y1="134.60" x2="750.05" y2="134.60" stroke="#000" stroke-width="1.1"/>
<line x1="746.05" y1="96.55" x2="750.05" y2="96.55" stroke="#000" stroke-width="1.1"/>
<line x1="742.05" y1="58.50" x2="750.05" y2="58.50" stroke="#000" stroke-width="1.1"/>
<line x1="746.05" y1="20.45" x2="750.05" y2="20.45" stroke="#000" stroke-width="1.1"/>
<line x1="750.05" y1="439.00" x2="750.05" y2="442.80" stroke="#000" stroke-width="1.1"/>
<line x1="805.60" y1="439.00" x2="805.60" y2="446.50" stroke="#000" stroke-width="1.1"/>
<line x1="861.52" y1="439.00" x2="861.52" y2="442.80" stroke="#000" stroke-width="1.1"/>
<line x1="917.45" y1="439.00" x2="917.45" y2="446.50" stroke="#000" stroke-width="1.1"/>
<line x1="973.38" y1="439.00" x2="973.38" y2="442.80" stroke="#000" stroke-width="1.1"/>
<line x1="1029.30" y1="439.00" x2="1029.30" y2="446.50" stroke="#000" stroke-width="1.1"/>
<line x1="1085.22" y1="439.00" x2="1085.22" y2="442.80" stroke="#000" stroke-width="1.1"/>
<line x1="1141.15" y1="439.00" x2="1141.15" y2="446.50" stroke="#000" stroke-width="1.1"/>
<line x1="1197.08" y1="439.00" x2="1197.08" y2="442.80" stroke="#000" stroke-width="1.1"/>
<line x1="1253.00" y1="439.00" x2="1253.00" y2="446.50" stroke="#000" stroke-width="1.1"/>
<text transform="translate(736.15,445.00)" font-size="25.00" text-anchor="end">0.0</text>
<text transform="translate(736.15,368.90)" font-size="25.00" text-anchor="end">1.5</text>
<text transform="translate(736.15,292.80)" font-size="25.00" text-anchor="end">3.0</text>
<text transform="translate(736.15,216.70)" font-size="25.00" text-anchor="end">4.5</text>
<text transform="translate(736.15,140.60)" font-size="25.00" text-anchor="end">6.0</text>
<text transform="translate(736.15,64.50)" font-size="25.00" text-anchor="end">7.5</text>
<text transform="translate(805.60,470.55)" font-size="24.90" text-anchor="middle">0</text>
<text transform="translate(917.45,470.55)" font-size="24.90" text-anchor="middle">50</text>
<text transform="translate(1029.30,470.55)" font-size="24.90" text-anchor="middle">100</text>
<text transform="translate(1141.15,470.55)" font-size="24.90" text-anchor="middle">150</text>
<text transform="translate(1253.00,470.55)" font-size="24.90" text-anchor="middle">200</text>
<text transform="translate(950.12,521.90) scale(1.0680,1)" font-size="25.50" text-anchor="start">Length</text>
<text transform="translate(1033.53,521.90) scale(1.0459,1)" font-size="25.50" text-anchor="start">(dm)</text>
<text transform="translate(678.35,395.84) rotate(-90) scale(1.0591,1)" font-size="26.30" text-anchor="start">Capped</text>
<text transform="translate(678.35,304.36) rotate(-90) scale(1.0074,1)" font-size="26.30" text-anchor="start">mRNA</text>
<text transform="translate(678.35,220.63) rotate(-90) scale(1.0274,1)" font-size="26.30" text-anchor="start">concentration</text>
<text transform="translate(678.35,66.52) rotate(-90) scale(0.9666,1)" font-size="26.30" text-anchor="start">(µM)</text>
<rect x="1095.5" y="356.5" width="173" height="69" fill="#fff" stroke="#aaaaaa" stroke-width="1"/>
<line x1="1098.60" y1="374.20" x2="1158.50" y2="374.20" stroke="#000" stroke-width="1.7"/>
<line x1="1098.6" y1="407.4" x2="1159" y2="407.4" stroke="#000" stroke-width="1.7" stroke-dasharray="3.2 6.2"/>
<text transform="translate(1164.70,383.10) scale(1.0443,1)" font-size="23.20" text-anchor="start">Mean</text>
<text transform="translate(1164.70,416.10) scale(1.0459,1)" font-size="23.20" text-anchor="start">Min./max.</text>
<path d="M805.80,422.82 L806.25,421.63 L806.70,420.46 L807.15,419.29 L807.60,418.13 L808.05,416.98 L808.50,415.84 L808.95,414.70 L809.40,413.58 L809.85,412.46 L810.29,411.34 L810.74,410.24 L811.19,409.14 L811.64,408.04 L812.09,406.96 L812.54,405.88 L812.99,404.81 L813.44,403.74 L813.89,402.69 L814.34,401.64 L814.79,400.59 L815.24,399.55 L815.69,398.52 L816.14,397.50 L816.59,396.48 L817.04,395.47 L817.49,394.46 L817.94,393.46 L818.38,392.47 L818.83,391.48 L819.28,390.50 L819.73,389.52 L820.18,388.55 L820.63,387.59 L821.08,386.63 L821.53,385.68 L821.98,384.73 L822.43,383.79 L822.88,382.85 L823.33,381.92 L823.78,381.00 L824.23,380.08 L824.68,379.17 L825.13,378.26 L825.58,377.35 L826.03,376.46 L826.47,375.56 L826.92,374.68 L827.37,373.79 L827.82,372.91 L828.27,372.04 L828.72,371.17 L829.17,370.31 L829.62,369.45 L830.07,368.60 L830.52,367.75 L830.97,366.91 L831.42,366.07 L831.87,365.23 L832.32,364.40 L832.77,363.58 L833.22,362.75 L833.67,361.94 L834.12,361.13 L834.56,360.32 L835.01,359.51 L835.46,358.71 L835.91,357.92 L836.36,357.13 L836.81,356.34 L837.26,355.56 L837.71,354.78 L838.16,354.00 L838.61,353.23 L839.06,352.47 L839.51,351.70 L839.96,350.95 L840.41,350.19 L840.86,349.44 L841.31,348.69 L841.76,347.95 L842.21,347.21 L842.65,346.47 L843.10,345.74 L843.55,345.01 L844.00,344.29 L844.45,343.56 L844.90,342.85 L845.35,342.13 L845.80,341.42 L846.25,340.71 L846.70,340.01 L847.15,339.31 L847.60,338.61 L848.05,337.92 L848.50,337.22 L848.95,336.54 L849.40,335.85 L849.85,335.17 L850.30,334.49 L850.74,333.82 L851.19,333.15 L851.64,332.48 L852.09,331.81 L852.54,331.15 L852.99,330.49 L853.44,329.84 L853.89,329.18 L854.34,328.53 L854.79,327.88 L855.24,327.24 L855.69,326.60 L856.14,325.96 L856.59,325.32 L857.04,324.69 L857.49,324.06 L857.94,323.43 L858.39,322.81 L858.83,322.19 L859.28,321.57 L859.73,320.95 L860.18,320.34 L860.63,319.72 L861.08,319.12 L861.53,318.51 L861.98,317.91 L862.43,317.30 L862.88,316.71 L863.33,316.11 L863.78,315.52 L864.23,314.93 L864.68,314.34 L865.13,313.75 L865.58,313.17 L866.03,312.59 L866.48,312.01 L866.92,311.43 L867.37,310.86 L867.82,310.28 L868.27,309.72 L868.72,309.15 L869.17,308.58 L869.62,308.02 L870.07,307.46 L870.52,306.90 L870.97,306.35 L871.42,305.79 L871.87,305.24 L872.32,304.69 L872.77,304.14 L873.22,303.60 L873.67,303.05 L874.12,302.51 L874.57,301.97 L875.01,301.44 L875.46,300.90 L875.91,300.37 L876.36,299.84 L876.81,299.31 L877.26,298.78 L877.71,298.26 L878.16,297.73 L878.61,297.21 L879.06,296.69 L879.51,296.18 L879.96,295.66 L880.41,295.15 L880.86,294.64 L881.31,294.13 L881.76,293.62 L882.21,293.11 L882.66,292.61 L883.10,292.11 L883.55,291.61 L884.00,291.11 L884.45,290.61 L884.90,290.12 L885.35,289.62 L885.80,289.13 L886.25,288.64 L886.70,288.15 L887.15,287.67 L887.60,287.18 L888.05,286.70 L888.50,286.22 L888.95,285.74 L889.40,285.26 L889.85,284.78 L890.30,284.31 L890.75,283.84 L891.19,283.36 L891.64,282.89 L892.09,282.43 L892.54,281.96 L892.99,281.49 L893.44,281.03 L893.89,280.57 L894.34,280.11 L894.79,279.65 L895.24,279.19 L895.91,278.51 L896.75,277.66 L897.59,276.82 L898.43,275.99 L899.27,275.16 L900.11,274.33 L900.94,273.51 L901.78,272.69 L902.62,271.88 L903.46,271.08 L904.30,270.27 L905.14,269.48 L905.98,268.68 L906.82,267.90 L907.66,267.11 L908.49,266.33 L909.33,265.56 L910.17,264.79 L911.01,264.02 L911.85,263.26 L912.69,262.50 L913.53,261.75 L914.37,261.00 L915.21,260.26 L916.04,259.52 L916.88,258.78 L917.72,258.05 L918.56,257.32 L919.40,256.59 L920.24,255.87 L921.08,255.15 L921.92,254.44 L922.76,253.73 L923.60,253.02 L924.43,252.32 L925.27,251.62 L926.11,250.93 L926.95,250.24 L927.79,249.55 L928.63,248.86 L929.47,248.18 L930.31,247.50 L931.15,246.83 L931.98,246.16 L932.82,245.49 L933.66,244.83 L934.50,244.17 L935.34,243.51 L936.18,242.86 L937.02,242.20 L937.86,241.56 L938.70,240.91 L939.53,240.27 L940.37,239.63 L941.21,239.00 L942.05,238.36 L942.89,237.74 L943.73,237.11 L944.57,236.49 L945.41,235.87 L946.25,235.25 L947.08,234.63 L947.92,234.02 L948.76,233.41 L949.60,232.81 L950.44,232.21 L951.28,231.61 L952.12,231.01 L952.96,230.42 L953.80,229.82 L954.64,229.23 L955.47,228.65 L956.31,228.07 L957.15,227.48 L957.99,226.91 L958.83,226.33 L959.67,225.76 L960.51,225.19 L961.35,224.62 L962.19,224.06 L963.02,223.49 L963.86,222.93 L964.70,222.38 L965.54,221.82 L966.38,221.27 L967.22,220.72 L968.06,220.17 L968.90,219.63 L969.74,219.08 L970.57,218.54 L971.41,218.01 L972.25,217.47 L973.09,216.94 L973.93,216.41 L974.77,215.88 L975.61,215.35 L976.45,214.83 L977.29,214.31 L978.12,213.79 L978.96,213.27 L979.80,212.76 L980.64,212.24 L981.48,211.73 L982.32,211.23 L983.16,210.72 L984.00,210.22 L984.84,209.72 L985.68,209.22 L986.51,208.72 L987.35,208.22 L988.19,207.73 L989.03,207.24 L989.87,206.75 L990.71,206.27 L991.55,205.78 L992.39,205.30 L993.23,204.82 L994.06,204.34 L994.90,203.86 L995.74,203.39 L996.58,202.92 L997.42,202.45 L998.26,201.98 L999.10,201.51 L999.94,201.05 L1000.78,200.59 L1001.61,200.12 L1002.45,199.67 L1003.29,199.21 L1004.13,198.76 L1004.97,198.30 L1005.81,197.85 L1006.65,197.40 L1007.49,196.96 L1008.33,196.51 L1009.17,196.07 L1010.00,195.62 L1010.84,195.19 L1011.68,194.75 L1012.52,194.31 L1013.36,193.88 L1014.20,193.44 L1015.04,193.01 L1015.88,192.58 L1016.72,192.16 L1017.55,191.73 L1018.39,191.31 L1019.23,190.89 L1020.07,190.47 L1020.91,190.05 L1021.75,189.63 L1022.59,189.22 L1023.43,188.80 L1024.27,188.39 L1025.10,187.98 L1025.94,187.57 L1026.78,187.17 L1027.62,186.76 L1028.46,186.36 L1029.30,185.96 L1030.14,185.56 L1030.98,185.16 L1031.82,184.76 L1032.65,184.37 L1033.49,183.97 L1034.33,183.58 L1035.17,183.19 L1036.01,182.80 L1036.85,182.42 L1037.69,182.03 L1038.53,181.65 L1039.37,181.26 L1040.21,180.88 L1041.04,180.50 L1041.88,180.13 L1042.72,179.75 L1043.56,179.37 L1044.40,179.00 L1045.24,178.63 L1046.08,178.26 L1046.92,177.89 L1047.76,177.52 L1048.59,177.16 L1049.43,176.79 L1050.27,176.43 L1051.11,176.07 L1051.95,175.71 L1052.79,175.35 L1053.63,174.99 L1054.47,174.64 L1055.31,174.28 L1056.14,173.93 L1056.98,173.58 L1057.82,173.23 L1058.66,172.88 L1059.50,172.54 L1060.34,172.19 L1061.18,171.85 L1062.02,171.50 L1062.86,171.16 L1063.69,170.82 L1064.53,170.48 L1065.37,170.14 L1066.21,169.81 L1067.05,169.47 L1067.89,169.14 L1068.73,168.81 L1069.57,168.48 L1070.41,168.15 L1071.25,167.82 L1072.08,167.49 L1072.92,167.17 L1073.76,166.84 L1074.60,166.52 L1075.44,166.20 L1076.28,165.88 L1077.12,165.56 L1077.96,165.24 L1078.80,164.93 L1079.63,164.61 L1080.47,164.30 L1081.31,163.98 L1082.15,163.67 L1082.99,163.36 L1083.83,163.05 L1084.67,162.75 L1085.51,162.44 L1086.35,162.13 L1087.18,161.83 L1088.02,161.53 L1088.86,161.23 L1089.70,160.92 L1090.54,160.63 L1091.38,160.33 L1092.22,160.03 L1093.06,159.73 L1093.90,159.44 L1094.73,159.15 L1095.57,158.85 L1096.41,158.56 L1097.25,158.27 L1098.09,157.99 L1098.93,157.70 L1099.77,157.41 L1100.61,157.13 L1101.45,156.84 L1102.29,156.56 L1103.12,156.28 L1103.96,156.00 L1104.80,155.72 L1105.64,155.44 L1106.48,155.16 L1107.32,154.88 L1108.16,154.61 L1109.00,154.33 L1109.84,154.06 L1110.67,153.79 L1111.51,153.52 L1112.35,153.25 L1113.19,152.98 L1114.03,152.71 L1114.87,152.44 L1115.71,152.18 L1116.55,151.91 L1117.39,151.65 L1118.22,151.39 L1119.06,151.13 L1119.90,150.87 L1120.74,150.61 L1121.58,150.35 L1122.42,150.09 L1123.26,149.84 L1124.10,149.58 L1124.94,149.33 L1125.77,149.07 L1126.61,148.82 L1127.45,148.57 L1128.29,148.32 L1129.13,148.07 L1129.97,147.82 L1130.81,147.57 L1131.65,147.33 L1132.49,147.08 L1133.33,146.84 L1134.16,146.59 L1135.00,146.35 L1135.84,146.11 L1136.68,145.87 L1137.52,145.63 L1138.36,145.39 L1139.20,145.15 L1140.04,144.92 L1140.88,144.68 L1141.71,144.45 L1142.55,144.21 L1143.39,143.98 L1144.23,143.75 L1145.07,143.52 L1145.91,143.29 L1146.75,143.06 L1147.59,142.83 L1148.43,142.60 L1149.26,142.37 L1150.10,142.15 L1150.94,141.92 L1151.78,141.70 L1152.62,141.48 L1153.46,141.25 L1154.30,141.03 L1155.14,140.81 L1155.98,140.59 L1156.82,140.37 L1157.65,140.16 L1158.49,139.94 L1159.33,139.72 L1160.17,139.51 L1161.01,139.29 L1161.85,139.08 L1162.69,138.87 L1163.53,138.65 L1164.37,138.44 L1165.20,138.23 L1166.04,138.02 L1166.88,137.81 L1167.72,137.61 L1168.56,137.40 L1169.40,137.19 L1170.24,136.99 L1171.08,136.78 L1171.92,136.58 L1172.75,136.38 L1173.59,136.17 L1174.43,135.97 L1175.27,135.77 L1176.11,135.57 L1176.95,135.37 L1177.79,135.18 L1178.63,134.98 L1179.47,134.78 L1180.30,134.59 L1181.14,134.39 L1181.98,134.20 L1182.82,134.00 L1183.66,133.81 L1184.50,133.62 L1185.34,133.43 L1186.18,133.24 L1187.02,133.05 L1187.86,132.86 L1188.69,132.67 L1189.53,132.48 L1190.37,132.30 L1191.21,132.11 L1192.05,131.92 L1192.89,131.74 L1193.73,131.56 L1194.57,131.37 L1195.41,131.19 L1196.24,131.01 L1197.08,130.83 L1197.92,130.65 L1198.76,130.47 L1199.60,130.29 L1200.44,130.11 L1201.28,129.93 L1202.12,129.76 L1202.96,129.58 L1203.79,129.41 L1204.63,129.23 L1205.47,129.06 L1206.31,128.88 L1207.15,128.71 L1207.99,128.54 L1208.83,128.37 L1209.67,128.20 L1210.51,128.03 L1211.34,127.86 L1212.18,127.69 L1213.02,127.52 L1213.86,127.35 L1214.70,127.19 L1215.54,127.02 L1216.38,126.86 L1217.22,126.70 L1218.06,126.55 L1218.90,126.41 L1219.73,126.28 L1220.57,126.15 L1221.41,126.03 L1222.25,125.92 L1223.09,125.82 L1223.93,125.73 L1224.77,125.64 L1225.61,125.56 L1226.45,125.49 L1227.28,125.43 L1228.12,125.38 L1228.96,125.33 L1229.80,125.30 L1230.64,125.25" fill="none" stroke="#000" stroke-width="1.7" stroke-linejoin="round"/>
<path d="M805.80,422.82 L806.25,421.61 L806.70,420.41 L807.15,419.21 L807.60,418.03 L808.05,416.85 L808.50,415.68 L808.95,414.52 L809.40,413.36 L809.85,412.21 L810.29,411.07 L810.74,409.94 L811.19,408.82 L811.64,407.70 L812.09,406.59 L812.54,405.48 L812.99,404.39 L813.44,403.30 L813.89,402.22 L814.34,401.14 L814.79,400.07 L815.24,399.01 L815.69,397.95 L816.14,396.90 L816.59,395.86 L817.04,394.82 L817.49,393.79 L817.94,392.77 L818.38,391.75 L818.83,390.74 L819.28,389.73 L819.73,388.73 L820.18,387.74 L820.63,386.75 L821.08,385.77 L821.53,384.80 L821.98,383.83 L822.43,382.86 L822.88,381.90 L823.33,380.95 L823.78,380.00 L824.23,379.06 L824.68,378.13 L825.13,377.19 L825.58,376.27 L826.03,375.35 L826.47,374.43 L826.92,373.52 L827.37,372.62 L827.82,371.72 L828.27,370.83 L828.72,369.94 L829.17,369.05 L829.62,368.17 L830.07,367.30 L830.52,366.43 L830.97,365.56 L831.42,364.70 L831.87,363.85 L832.32,363.00 L832.77,362.15 L833.22,361.31 L833.67,360.47 L834.12,359.64 L834.56,358.81 L835.01,357.99 L835.46,357.17 L835.91,356.35 L836.36,355.54 L836.81,354.73 L837.26,353.93 L837.71,353.13 L838.16,352.34 L838.61,351.55 L839.06,350.76 L839.51,349.98 L839.96,349.20 L840.41,348.43 L840.86,347.66 L841.31,346.89 L841.76,346.13 L842.21,345.37 L842.65,344.62 L843.10,343.87 L843.55,343.12 L844.00,342.38 L844.45,341.64 L844.90,340.90 L845.35,340.17 L845.80,339.44 L846.25,338.71 L846.70,337.99 L847.15,337.27 L847.60,336.56 L848.05,335.85 L848.50,335.14 L848.95,334.43 L849.40,333.73 L849.85,333.03 L850.30,332.34 L850.74,331.65 L851.19,330.96 L851.64,330.27 L852.09,329.59 L852.54,328.91 L852.99,328.24 L853.44,327.56 L853.89,326.89 L854.34,326.23 L854.79,325.56 L855.24,324.90 L855.69,324.24 L856.14,323.59 L856.59,322.94 L857.04,322.29 L857.49,321.64 L857.94,321.00 L858.39,320.36 L858.83,319.72 L859.28,319.09 L859.73,318.45 L860.18,317.82 L860.63,317.20 L861.08,316.57 L861.53,315.95 L861.98,315.33 L862.43,314.72 L862.88,314.10 L863.33,313.49 L863.78,312.89 L864.23,312.28 L864.68,311.68 L865.13,311.08 L865.58,310.48 L866.03,309.88 L866.48,309.29 L866.92,308.70 L867.37,308.11 L867.82,307.52 L868.27,306.94 L868.72,306.36 L869.17,305.78 L869.62,305.20 L870.07,304.63 L870.52,304.06 L870.97,303.49 L871.42,302.92 L871.87,302.36 L872.32,301.79 L872.77,301.23 L873.22,300.67 L873.67,300.12 L874.12,299.56 L874.57,299.01 L875.01,298.46 L875.46,297.91 L875.91,297.37 L876.36,296.82 L876.81,296.28 L877.26,295.74 L877.71,295.20 L878.16,294.67 L878.61,294.14 L879.06,293.60 L879.51,293.07 L879.96,292.55 L880.41,292.02 L880.86,291.50 L881.31,290.98 L881.76,290.46 L882.21,289.94 L882.66,289.42 L883.10,288.91 L883.55,288.40 L884.00,287.89 L884.45,287.38 L884.90,286.87 L885.35,286.37 L885.80,285.86 L886.25,285.36 L886.70,284.86 L887.15,284.36 L887.60,283.87 L888.05,283.37 L888.50,282.88 L888.95,282.39 L889.40,281.90 L889.85,281.41 L890.30,280.93 L890.75,280.44 L891.19,279.96 L891.64,279.48 L892.09,279.00 L892.54,278.52 L892.99,278.05 L893.44,277.57 L893.89,277.10 L894.34,276.63 L894.79,276.16 L895.24,275.69 L895.91,275.00 L896.75,274.13 L897.59,273.27 L898.43,272.42 L899.27,271.57 L900.11,270.73 L900.94,269.89 L901.78,269.05 L902.62,268.22 L903.46,267.40 L904.30,266.58 L905.14,265.77 L905.98,264.96 L906.82,264.15 L907.66,263.35 L908.49,262.56 L909.33,261.77 L910.17,260.98 L911.01,260.20 L911.85,259.42 L912.69,258.65 L913.53,257.88 L914.37,257.11 L915.21,256.35 L916.04,255.60 L916.88,254.85 L917.72,254.10 L918.56,253.36 L919.40,252.62 L920.24,251.88 L921.08,251.15 L921.92,250.42 L922.76,249.70 L923.60,248.98 L924.43,248.26 L925.27,247.55 L926.11,246.84 L926.95,246.14 L927.79,245.44 L928.63,244.74 L929.47,244.05 L930.31,243.36 L931.15,242.67 L931.98,241.99 L932.82,241.31 L933.66,240.63 L934.50,239.96 L935.34,239.29 L936.18,238.62 L937.02,237.96 L937.86,237.30 L938.70,236.65 L939.53,236.00 L940.37,235.35 L941.21,234.70 L942.05,234.06 L942.89,233.42 L943.73,232.78 L944.57,232.15 L945.41,231.52 L946.25,230.89 L947.08,230.27 L947.92,229.65 L948.76,229.03 L949.60,228.41 L950.44,227.80 L951.28,227.19 L952.12,226.59 L952.96,225.98 L953.80,225.38 L954.64,224.79 L955.47,224.19 L956.31,223.60 L957.15,223.01 L957.99,222.42 L958.83,221.84 L959.67,221.26 L960.51,220.68 L961.35,220.11 L962.19,219.53 L963.02,218.96 L963.86,218.40 L964.70,217.83 L965.54,217.27 L966.38,216.71 L967.22,216.15 L968.06,215.60 L968.90,215.05 L969.74,214.50 L970.57,213.95 L971.41,213.41 L972.25,212.87 L973.09,212.33 L973.93,211.79 L974.77,211.25 L975.61,210.72 L976.45,210.19 L977.29,209.67 L978.12,209.14 L978.96,208.62 L979.80,208.10 L980.64,207.58 L981.48,207.07 L982.32,206.55 L983.16,206.04 L984.00,205.53 L984.84,205.03 L985.68,204.52 L986.51,204.02 L987.35,203.52 L988.19,203.02 L989.03,202.53 L989.87,202.03 L990.71,201.54 L991.55,201.05 L992.39,200.57 L993.23,200.08 L994.06,199.60 L994.90,199.12 L995.74,198.64 L996.58,198.17 L997.42,197.69 L998.26,197.22 L999.10,196.75 L999.94,196.28 L1000.78,195.82 L1001.61,195.35 L1002.45,194.89 L1003.29,194.43 L1004.13,193.97 L1004.97,193.52 L1005.81,193.06 L1006.65,192.61 L1007.49,192.16 L1008.33,191.71 L1009.17,191.27 L1010.00,190.82 L1010.84,190.38 L1011.68,189.94 L1012.52,189.50 L1013.36,189.07 L1014.20,188.63 L1015.04,188.20 L1015.88,187.77 L1016.72,187.34 L1017.55,186.91 L1018.39,186.49 L1019.23,186.06 L1020.07,185.64 L1020.91,185.22 L1021.75,184.80 L1022.59,184.39 L1023.43,183.97 L1024.27,183.56 L1025.10,183.15 L1025.94,182.74 L1026.78,182.33 L1027.62,181.92 L1028.46,181.52 L1029.30,181.12 L1030.14,180.71 L1030.98,180.32 L1031.82,179.92 L1032.65,179.52 L1033.49,179.13 L1034.33,178.74 L1035.17,178.34 L1036.01,177.95 L1036.85,177.57 L1037.69,177.18 L1038.53,176.80 L1039.37,176.41 L1040.21,176.03 L1041.04,175.65 L1041.88,175.28 L1042.72,174.90 L1043.56,174.52 L1044.40,174.15 L1045.24,173.78 L1046.08,173.41 L1046.92,173.04 L1047.76,172.67 L1048.59,172.31 L1049.43,171.94 L1050.27,171.58 L1051.11,171.22 L1051.95,170.86 L1052.79,170.50 L1053.63,170.15 L1054.47,169.79 L1055.31,169.44 L1056.14,169.09 L1056.98,168.73 L1057.82,168.39 L1058.66,168.04 L1059.50,167.69 L1060.34,167.35 L1061.18,167.00 L1062.02,166.66 L1062.86,166.32 L1063.69,165.98 L1064.53,165.64 L1065.37,165.31 L1066.21,164.97 L1067.05,164.64 L1067.89,164.31 L1068.73,163.98 L1069.57,163.65 L1070.41,163.32 L1071.25,162.99 L1072.08,162.67 L1072.92,162.34 L1073.76,162.02 L1074.60,161.70 L1075.44,161.38 L1076.28,161.06 L1077.12,160.74 L1077.96,160.43 L1078.80,160.11 L1079.63,159.80 L1080.47,159.49 L1081.31,159.18 L1082.15,158.87 L1082.99,158.56 L1083.83,158.25 L1084.67,157.94 L1085.51,157.64 L1086.35,157.34 L1087.18,157.03 L1088.02,156.73 L1088.86,156.43 L1089.70,156.14 L1090.54,155.84 L1091.38,155.54 L1092.22,155.25 L1093.06,154.95 L1093.90,154.66 L1094.73,154.37 L1095.57,154.08 L1096.41,153.79 L1097.25,153.51 L1098.09,153.22 L1098.93,152.93 L1099.77,152.65 L1100.61,152.37 L1101.45,152.09 L1102.29,151.81 L1103.12,151.53 L1103.96,151.25 L1104.80,150.97 L1105.64,150.70 L1106.48,150.42 L1107.32,150.15 L1108.16,149.87 L1109.00,149.60 L1109.84,149.33 L1110.67,149.06 L1111.51,148.80 L1112.35,148.53 L1113.19,148.26 L1114.03,148.00 L1114.87,147.73 L1115.71,147.47 L1116.55,147.21 L1117.39,146.95 L1118.22,146.69 L1119.06,146.43 L1119.90,146.18 L1120.74,145.92 L1121.58,145.66 L1122.42,145.41 L1123.26,145.16 L1124.10,144.90 L1124.94,144.65 L1125.77,144.40 L1126.61,144.16 L1127.45,143.91 L1128.29,143.66 L1129.13,143.41 L1129.97,143.17 L1130.81,142.93 L1131.65,142.68 L1132.49,142.44 L1133.33,142.20 L1134.16,141.96 L1135.00,141.72 L1135.84,141.48 L1136.68,141.25 L1137.52,141.01 L1138.36,140.78 L1139.20,140.54 L1140.04,140.31 L1140.88,140.08 L1141.71,139.84 L1142.55,139.61 L1143.39,139.38 L1144.23,139.16 L1145.07,138.93 L1145.91,138.70 L1146.75,138.48 L1147.59,138.25 L1148.43,138.03 L1149.26,137.81 L1150.10,137.58 L1150.94,137.36 L1151.78,137.14 L1152.62,136.92 L1153.46,136.70 L1154.30,136.49 L1155.14,136.27 L1155.98,136.06 L1156.82,135.84 L1157.65,135.63 L1158.49,135.41 L1159.33,135.20 L1160.17,134.99 L1161.01,134.78 L1161.85,134.57 L1162.69,134.36 L1163.53,134.15 L1164.37,133.95 L1165.20,133.74 L1166.04,133.53 L1166.88,133.33 L1167.72,133.13 L1168.56,132.92 L1169.40,132.72 L1170.24,132.52 L1171.08,132.32 L1171.92,132.12 L1172.75,131.92 L1173.59,131.72 L1174.43,131.53 L1175.27,131.33 L1176.11,131.14 L1176.95,130.94 L1177.79,130.75 L1178.63,130.55 L1179.47,130.36 L1180.30,130.17 L1181.14,129.98 L1181.98,129.79 L1182.82,129.60 L1183.66,129.41 L1184.50,129.22 L1185.34,129.04 L1186.18,128.85 L1187.02,128.67 L1187.86,128.48 L1188.69,128.30 L1189.53,128.11 L1190.37,127.93 L1191.21,127.75 L1192.05,127.57 L1192.89,127.39 L1193.73,127.21 L1194.57,127.03 L1195.41,126.85 L1196.24,126.68 L1197.08,126.50 L1197.92,126.32 L1198.76,126.15 L1199.60,125.97 L1200.44,125.80 L1201.28,125.63 L1202.12,125.45 L1202.96,125.28 L1203.79,125.11 L1204.63,124.94 L1205.47,124.77 L1206.31,124.60 L1207.15,124.44 L1207.99,124.27 L1208.83,124.10 L1209.67,123.94 L1210.51,123.77 L1211.34,123.61 L1212.18,123.44 L1213.02,123.28 L1213.86,123.12 L1214.70,122.95 L1215.54,122.79 L1216.38,122.63 L1217.22,122.47 L1218.06,122.31 L1218.90,122.15 L1219.73,122.00 L1220.57,121.84 L1221.41,121.68 L1222.25,121.53 L1223.09,121.37 L1223.93,121.22 L1224.77,121.06 L1225.61,120.91 L1226.45,120.75 L1227.28,120.60 L1228.12,120.45 L1228.96,120.30 L1229.80,120.15 L1230.64,120.00" fill="none" stroke="#000" stroke-width="1.7" stroke-linejoin="round" stroke-dasharray="3.2 6.2"/>
<path d="M805.80,422.82 L806.25,421.66 L806.70,420.51 L807.15,419.37 L807.60,418.24 L808.05,417.12 L808.50,416.00 L808.95,414.89 L809.40,413.79 L809.85,412.69 L810.29,411.61 L810.74,410.53 L811.19,409.45 L811.64,408.39 L812.09,407.33 L812.54,406.27 L812.99,405.23 L813.44,404.19 L813.89,403.16 L814.34,402.13 L814.79,401.11 L815.24,400.10 L815.69,399.09 L816.14,398.09 L816.59,397.09 L817.04,396.11 L817.49,395.12 L817.94,394.15 L818.38,393.18 L818.83,392.22 L819.28,391.26 L819.73,390.31 L820.18,389.36 L820.63,388.42 L821.08,387.48 L821.53,386.55 L821.98,385.63 L822.43,384.71 L822.88,383.80 L823.33,382.89 L823.78,381.99 L824.23,381.09 L824.68,380.20 L825.13,379.31 L825.58,378.43 L826.03,377.56 L826.47,376.69 L826.92,375.82 L827.37,374.96 L827.82,374.10 L828.27,373.25 L828.72,372.41 L829.17,371.56 L829.62,370.73 L830.07,369.89 L830.52,369.07 L830.97,368.24 L831.42,367.42 L831.87,366.61 L832.32,365.80 L832.77,365.00 L833.22,364.19 L833.67,363.40 L834.12,362.61 L834.56,361.82 L835.01,361.03 L835.46,360.26 L835.91,359.48 L836.36,358.71 L836.81,357.94 L837.26,357.18 L837.71,356.42 L838.16,355.66 L838.61,354.91 L839.06,354.16 L839.51,353.42 L839.96,352.68 L840.41,351.95 L840.86,351.21 L841.31,350.48 L841.76,349.76 L842.21,349.04 L842.65,348.32 L843.10,347.61 L843.55,346.90 L844.00,346.19 L844.45,345.49 L844.90,344.79 L845.35,344.09 L845.80,343.40 L846.25,342.71 L846.70,342.02 L847.15,341.34 L847.60,340.66 L848.05,339.98 L848.50,339.31 L848.95,338.64 L849.40,337.97 L849.85,337.31 L850.30,336.65 L850.74,335.99 L851.19,335.33 L851.64,334.68 L852.09,334.03 L852.54,333.39 L852.99,332.74 L853.44,332.11 L853.89,331.47 L854.34,330.83 L854.79,330.20 L855.24,329.58 L855.69,328.95 L856.14,328.33 L856.59,327.71 L857.04,327.09 L857.49,326.48 L857.94,325.86 L858.39,325.25 L858.83,324.65 L859.28,324.04 L859.73,323.44 L860.18,322.84 L860.63,322.25 L861.08,321.66 L861.53,321.06 L861.98,320.48 L862.43,319.89 L862.88,319.31 L863.33,318.73 L863.78,318.15 L864.23,317.57 L864.68,317.00 L865.13,316.43 L865.58,315.86 L866.03,315.29 L866.48,314.73 L866.92,314.16 L867.37,313.60 L867.82,313.05 L868.27,312.49 L868.72,311.94 L869.17,311.39 L869.62,310.84 L870.07,310.29 L870.52,309.75 L870.97,309.20 L871.42,308.66 L871.87,308.13 L872.32,307.59 L872.77,307.06 L873.22,306.52 L873.67,305.99 L874.12,305.47 L874.57,304.94 L875.01,304.42 L875.46,303.89 L875.91,303.38 L876.36,302.86 L876.81,302.34 L877.26,301.83 L877.71,301.32 L878.16,300.81 L878.61,300.30 L879.06,299.79 L879.51,299.29 L879.96,298.78 L880.41,298.28 L880.86,297.78 L881.31,297.29 L881.76,296.79 L882.21,296.30 L882.66,295.80 L883.10,295.31 L883.55,294.83 L884.00,294.34 L884.45,293.85 L884.90,293.37 L885.35,292.89 L885.80,292.41 L886.25,291.93 L886.70,291.45 L887.15,290.98 L887.60,290.51 L888.05,290.03 L888.50,289.56 L888.95,289.10 L889.40,288.63 L889.85,288.16 L890.30,287.70 L890.75,287.24 L891.19,286.78 L891.64,286.32 L892.09,285.86 L892.54,285.41 L892.99,284.95 L893.44,284.50 L893.89,284.05 L894.34,283.60 L894.79,283.15 L895.24,282.70 L895.91,282.04 L896.75,281.21 L897.59,280.39 L898.43,279.57 L899.27,278.76 L900.11,277.95 L900.94,277.15 L901.78,276.35 L902.62,275.56 L903.46,274.77 L904.30,273.99 L905.14,273.21 L905.98,272.43 L906.82,271.66 L907.66,270.90 L908.49,270.13 L909.33,269.38 L910.17,268.62 L911.01,267.87 L911.85,267.13 L912.69,266.39 L913.53,265.65 L914.37,264.91 L915.21,264.19 L916.04,263.46 L916.88,262.74 L917.72,262.02 L918.56,261.31 L919.40,260.60 L920.24,259.89 L921.08,259.19 L921.92,258.49 L922.76,257.79 L923.60,257.10 L924.43,256.41 L925.27,255.73 L926.11,255.04 L926.95,254.37 L927.79,253.69 L928.63,253.02 L929.47,252.35 L930.31,251.69 L931.15,251.03 L931.98,250.37 L932.82,249.71 L933.66,249.06 L934.50,248.41 L935.34,247.77 L936.18,247.12 L937.02,246.49 L937.86,245.85 L938.70,245.22 L939.53,244.59 L940.37,243.96 L941.21,243.33 L942.05,242.71 L942.89,242.10 L943.73,241.48 L944.57,240.87 L945.41,240.26 L946.25,239.65 L947.08,239.05 L947.92,238.45 L948.76,237.85 L949.60,237.25 L950.44,236.66 L951.28,236.07 L952.12,235.48 L952.96,234.90 L953.80,234.31 L954.64,233.73 L955.47,233.16 L956.31,232.58 L957.15,232.01 L957.99,231.44 L958.83,230.88 L959.67,230.31 L960.51,229.75 L961.35,229.19 L962.19,228.63 L963.02,228.08 L963.86,227.53 L964.70,226.98 L965.54,226.43 L966.38,225.89 L967.22,225.34 L968.06,224.80 L968.90,224.27 L969.74,223.73 L970.57,223.20 L971.41,222.67 L972.25,222.14 L973.09,221.61 L973.93,221.09 L974.77,220.57 L975.61,220.05 L976.45,219.53 L977.29,219.02 L978.12,218.50 L978.96,217.99 L979.80,217.48 L980.64,216.98 L981.48,216.47 L982.32,215.97 L983.16,215.47 L984.00,214.97 L984.84,214.48 L985.68,213.98 L986.51,213.49 L987.35,213.00 L988.19,212.51 L989.03,212.03 L989.87,211.54 L990.71,211.06 L991.55,210.58 L992.39,210.11 L993.23,209.63 L994.06,209.16 L994.90,208.68 L995.74,208.21 L996.58,207.75 L997.42,207.28 L998.26,206.82 L999.10,206.35 L999.94,205.89 L1000.78,205.44 L1001.61,204.98 L1002.45,204.52 L1003.29,204.07 L1004.13,203.62 L1004.97,203.17 L1005.81,202.72 L1006.65,202.28 L1007.49,201.83 L1008.33,201.39 L1009.17,200.95 L1010.00,200.51 L1010.84,200.08 L1011.68,199.64 L1012.52,199.21 L1013.36,198.78 L1014.20,198.35 L1015.04,197.92 L1015.88,197.49 L1016.72,197.07 L1017.55,196.65 L1018.39,196.22 L1019.23,195.80 L1020.07,195.39 L1020.91,194.97 L1021.75,194.56 L1022.59,194.14 L1023.43,193.73 L1024.27,193.32 L1025.10,192.91 L1025.94,192.51 L1026.78,192.10 L1027.62,191.70 L1028.46,191.30 L1029.30,190.90 L1030.14,190.50 L1030.98,190.10 L1031.82,189.71 L1032.65,189.31 L1033.49,188.92 L1034.33,188.53 L1035.17,188.14 L1036.01,187.75 L1036.85,187.37 L1037.69,186.98 L1038.53,186.60 L1039.37,186.22 L1040.21,185.84 L1041.04,185.46 L1041.88,185.08 L1042.72,184.71 L1043.56,184.33 L1044.40,183.96 L1045.24,183.59 L1046.08,183.22 L1046.92,182.85 L1047.76,182.48 L1048.59,182.12 L1049.43,181.76 L1050.27,181.39 L1051.11,181.03 L1051.95,180.67 L1052.79,180.31 L1053.63,179.96 L1054.47,179.60 L1055.31,179.25 L1056.14,178.89 L1056.98,178.54 L1057.82,178.19 L1058.66,177.84 L1059.50,177.50 L1060.34,177.15 L1061.18,176.80 L1062.02,176.46 L1062.86,176.12 L1063.69,175.78 L1064.53,175.44 L1065.37,175.10 L1066.21,174.76 L1067.05,174.43 L1067.89,174.09 L1068.73,173.76 L1069.57,173.43 L1070.41,173.10 L1071.25,172.77 L1072.08,172.44 L1072.92,172.12 L1073.76,171.79 L1074.60,171.47 L1075.44,171.14 L1076.28,170.82 L1077.12,170.50 L1077.96,170.18 L1078.80,169.87 L1079.63,169.55 L1080.47,169.23 L1081.31,168.92 L1082.15,168.61 L1082.99,168.30 L1083.83,167.98 L1084.67,167.68 L1085.51,167.37 L1086.35,167.06 L1087.18,166.75 L1088.02,166.45 L1088.86,166.15 L1089.70,165.84 L1090.54,165.54 L1091.38,165.24 L1092.22,164.94 L1093.06,164.65 L1093.90,164.35 L1094.73,164.05 L1095.57,163.76 L1096.41,163.47 L1097.25,163.18 L1098.09,162.88 L1098.93,162.59 L1099.77,162.31 L1100.61,162.02 L1101.45,161.73 L1102.29,161.45 L1103.12,161.16 L1103.96,160.88 L1104.80,160.60 L1105.64,160.32 L1106.48,160.04 L1107.32,159.76 L1108.16,159.48 L1109.00,159.20 L1109.84,158.93 L1110.67,158.65 L1111.51,158.38 L1112.35,158.11 L1113.19,157.83 L1114.03,157.56 L1114.87,157.30 L1115.71,157.03 L1116.55,156.76 L1117.39,156.49 L1118.22,156.23 L1119.06,155.96 L1119.90,155.70 L1120.74,155.44 L1121.58,155.18 L1122.42,154.92 L1123.26,154.66 L1124.10,154.40 L1124.94,154.14 L1125.77,153.89 L1126.61,153.63 L1127.45,153.38 L1128.29,153.12 L1129.13,152.87 L1129.97,152.62 L1130.81,152.37 L1131.65,152.12 L1132.49,151.87 L1133.33,151.62 L1134.16,151.38 L1135.00,151.13 L1135.84,150.88 L1136.68,150.64 L1137.52,150.40 L1138.36,150.16 L1139.20,149.91 L1140.04,149.67 L1140.88,149.44 L1141.71,149.20 L1142.55,148.96 L1143.39,148.72 L1144.23,148.49 L1145.07,148.25 L1145.91,148.02 L1146.75,147.79 L1147.59,147.55 L1148.43,147.32 L1149.26,147.09 L1150.10,146.86 L1150.94,146.63 L1151.78,146.41 L1152.62,146.18 L1153.46,145.95 L1154.30,145.73 L1155.14,145.50 L1155.98,145.28 L1156.82,145.06 L1157.65,144.84 L1158.49,144.62 L1159.33,144.40 L1160.17,144.18 L1161.01,143.96 L1161.85,143.74 L1162.69,143.52 L1163.53,143.31 L1164.37,143.09 L1165.20,142.88 L1166.04,142.67 L1166.88,142.45 L1167.72,142.24 L1168.56,142.03 L1169.40,141.82 L1170.24,141.61 L1171.08,141.40 L1171.92,141.19 L1172.75,140.99 L1173.59,140.78 L1174.43,140.58 L1175.27,140.37 L1176.11,140.17 L1176.95,139.96 L1177.79,139.76 L1178.63,139.56 L1179.47,139.36 L1180.30,139.16 L1181.14,138.96 L1181.98,138.76 L1182.82,138.57 L1183.66,138.37 L1184.50,138.17 L1185.34,137.98 L1186.18,137.78 L1187.02,137.59 L1187.86,137.39 L1188.69,137.20 L1189.53,137.01 L1190.37,136.82 L1191.21,136.63 L1192.05,136.44 L1192.89,136.25 L1193.73,136.06 L1194.57,135.87 L1195.41,135.69 L1196.24,135.50 L1197.08,135.32 L1197.92,135.13 L1198.76,134.95 L1199.60,134.77 L1200.44,134.58 L1201.28,134.40 L1202.12,134.22 L1202.96,134.04 L1203.79,133.86 L1204.63,133.68 L1205.47,133.50 L1206.31,133.32 L1207.15,133.15 L1207.99,132.97 L1208.83,132.80 L1209.67,132.62 L1210.51,132.45 L1211.34,132.27 L1212.18,132.10 L1213.02,131.93 L1213.86,131.76 L1214.70,131.58 L1215.54,131.41 L1216.38,131.24 L1217.22,131.08 L1218.06,130.91 L1218.90,130.74 L1219.73,130.57 L1220.57,130.41 L1221.41,130.24 L1222.25,130.07 L1223.09,129.91 L1223.93,129.75 L1224.77,129.58 L1225.61,129.42 L1226.45,129.26 L1227.28,129.10 L1228.12,128.93 L1228.96,128.77 L1229.80,128.61 L1230.64,128.46" fill="none" stroke="#000" stroke-width="1.7" stroke-linejoin="round" stroke-dasharray="3.2 6.2"/>
<text x="295.1" y="565.7" font-size="24.6" font-family="Liberation Serif, serif">(<tspan font-weight="bold" style="stroke-width:0.35px">a</tspan>)</text>
<text x="948.5" y="565.7" font-size="24.6" font-family="Liberation Serif, serif">(<tspan font-weight="bold" style="stroke-width:0.35px">b</tspan>)</text>
</svg>
</body></html>
